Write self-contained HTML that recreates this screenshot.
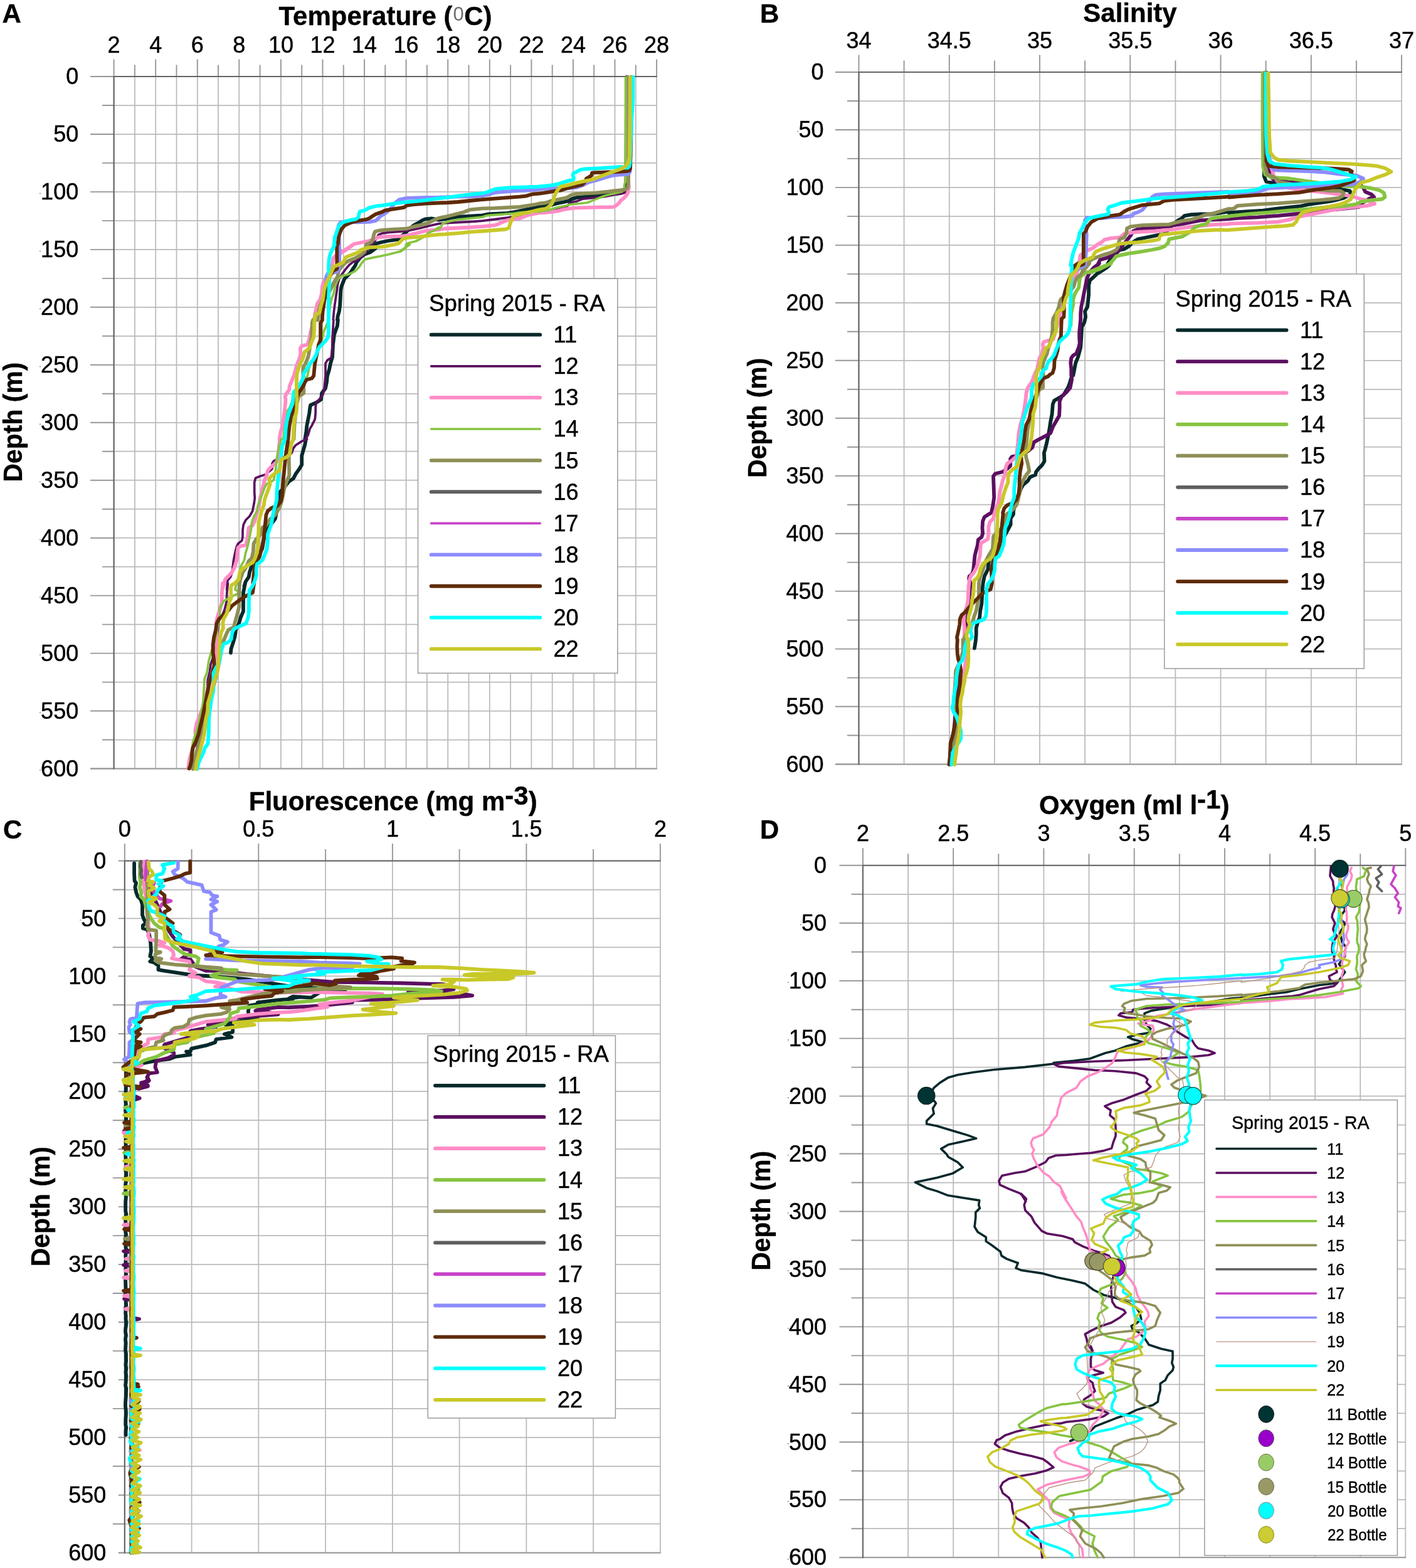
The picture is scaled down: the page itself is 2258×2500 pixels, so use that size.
<!DOCTYPE html>
<html lang="en"><head><meta charset="utf-8"><title>CTD profiles - Spring 2015 RA</title>
<style>html,body{margin:0;padding:0;background:#fff}body{width:2258px;height:2500px;overflow:hidden}svg{display:block}text{font-family:'Liberation Sans', Arial, Helvetica, sans-serif}</style>
</head><body>
<svg xmlns="http://www.w3.org/2000/svg" width="2258" height="2500" viewBox="0 0 2258 2500">
<g id="figure">
<rect width="2258" height="2500" fill="#fff"/>
<g id="axesA" fill="none">
<path d="M181.6 122V1225.5M214.9 122V1225.5M248.2 122V1225.5M281.5 122V1225.5M314.8 122V1225.5M348 122V1225.5M381.3 122V1225.5M414.6 122V1225.5M447.9 122V1225.5M481.2 122V1225.5M514.5 122V1225.5M547.8 122V1225.5M581.1 122V1225.5M614.3 122V1225.5M647.6 122V1225.5M680.9 122V1225.5M714.2 122V1225.5M747.5 122V1225.5M780.8 122V1225.5M814.1 122V1225.5M847.4 122V1225.5M880.7 122V1225.5M913.9 122V1225.5M947.2 122V1225.5M980.5 122V1225.5M1013.8 122V1225.5M1047.1 122V1225.5M181.6 122H1047.1M181.6 168H1047.1M181.6 214H1047.1M181.6 259.9H1047.1M181.6 305.9H1047.1M181.6 351.9H1047.1M181.6 397.9H1047.1M181.6 443.9H1047.1M181.6 489.8H1047.1M181.6 535.8H1047.1M181.6 581.8H1047.1M181.6 627.8H1047.1M181.6 673.8H1047.1M181.6 719.7H1047.1M181.6 765.7H1047.1M181.6 811.7H1047.1M181.6 857.7H1047.1M181.6 903.6H1047.1M181.6 949.6H1047.1M181.6 995.6H1047.1M181.6 1041.6H1047.1M181.6 1087.6H1047.1M181.6 1133.5H1047.1M181.6 1179.5H1047.1M181.6 1225.5H1047.1" stroke="#bababa" stroke-width="1.75"/>
<path d="M181.6 94.5V122M214.9 103.5V122M248.2 94.5V122M281.5 103.5V122M314.8 94.5V122M348 103.5V122M381.3 94.5V122M414.6 103.5V122M447.9 94.5V122M481.2 103.5V122M514.5 94.5V122M547.8 103.5V122M581.1 94.5V122M614.3 103.5V122M647.6 94.5V122M680.9 103.5V122M714.2 94.5V122M747.5 103.5V122M780.8 94.5V122M814.1 103.5V122M847.4 94.5V122M880.7 103.5V122M913.9 94.5V122M947.2 103.5V122M980.5 94.5V122M1013.8 103.5V122M1047.1 94.5V122M144.1 122H181.6M163.1 168H181.6M144.1 214H181.6M163.1 259.9H181.6M144.1 305.9H181.6M163.1 351.9H181.6M144.1 397.9H181.6M163.1 443.9H181.6M144.1 489.8H181.6M163.1 535.8H181.6M144.1 581.8H181.6M163.1 627.8H181.6M144.1 673.8H181.6M163.1 719.7H181.6M144.1 765.7H181.6M163.1 811.7H181.6M144.1 857.7H181.6M163.1 903.6H181.6M144.1 949.6H181.6M163.1 995.6H181.6M144.1 1041.6H181.6M163.1 1087.6H181.6M144.1 1133.5H181.6M163.1 1179.5H181.6M144.1 1225.5H181.6" stroke="#969696" stroke-width="1.9"/>
<path d="M144.1 1225.5H1047.9" stroke="#9a9a9a" stroke-width="2.1"/>
<path d="M181.6 121.2V1226.5M181.6 122H1047.9" stroke="#646464" stroke-width="2.1"/>
</g>
<g id="axesB" fill="none">
<path d="M1369.5 115V1218.5M1441.6 115V1218.5M1513.8 115V1218.5M1585.9 115V1218.5M1658 115V1218.5M1730.1 115V1218.5M1802.2 115V1218.5M1874.4 115V1218.5M1946.5 115V1218.5M2018.6 115V1218.5M2090.8 115V1218.5M2162.9 115V1218.5M2235 115V1218.5M1369.5 115H2235M1369.5 161H2235M1369.5 207H2235M1369.5 252.9H2235M1369.5 298.9H2235M1369.5 344.9H2235M1369.5 390.9H2235M1369.5 436.9H2235M1369.5 482.8H2235M1369.5 528.8H2235M1369.5 574.8H2235M1369.5 620.8H2235M1369.5 666.8H2235M1369.5 712.7H2235M1369.5 758.7H2235M1369.5 804.7H2235M1369.5 850.7H2235M1369.5 896.6H2235M1369.5 942.6H2235M1369.5 988.6H2235M1369.5 1034.6H2235M1369.5 1080.6H2235M1369.5 1126.5H2235M1369.5 1172.5H2235M1369.5 1218.5H2235" stroke="#bababa" stroke-width="1.75"/>
<path d="M1369.5 87.5V115M1441.6 96.5V115M1513.8 87.5V115M1585.9 96.5V115M1658 87.5V115M1730.1 96.5V115M1802.2 87.5V115M1874.4 96.5V115M1946.5 87.5V115M2018.6 96.5V115M2090.8 87.5V115M2162.9 96.5V115M2235 87.5V115M1332 115H1369.5M1351 161H1369.5M1332 207H1369.5M1351 252.9H1369.5M1332 298.9H1369.5M1351 344.9H1369.5M1332 390.9H1369.5M1351 436.9H1369.5M1332 482.8H1369.5M1351 528.8H1369.5M1332 574.8H1369.5M1351 620.8H1369.5M1332 666.8H1369.5M1351 712.7H1369.5M1332 758.7H1369.5M1351 804.7H1369.5M1332 850.7H1369.5M1351 896.6H1369.5M1332 942.6H1369.5M1351 988.6H1369.5M1332 1034.6H1369.5M1351 1080.6H1369.5M1332 1126.5H1369.5M1351 1172.5H1369.5M1332 1218.5H1369.5" stroke="#969696" stroke-width="1.9"/>
<path d="M1332 1218.5H2235.8" stroke="#9a9a9a" stroke-width="2.1"/>
<path d="M1369.5 114.2V1219.5M1369.5 115H2235.8" stroke="#646464" stroke-width="2.1"/>
</g>
<g id="axesC" fill="none">
<path d="M198.8 1372.5V2475.7M305.6 1372.5V2475.7M412.3 1372.5V2475.7M519.1 1372.5V2475.7M625.9 1372.5V2475.7M732.6 1372.5V2475.7M839.4 1372.5V2475.7M946.1 1372.5V2475.7M1052.9 1372.5V2475.7M198.8 1372.5H1052.9M198.8 1418.5H1052.9M198.8 1464.4H1052.9M198.8 1510.4H1052.9M198.8 1556.4H1052.9M198.8 1602.3H1052.9M198.8 1648.3H1052.9M198.8 1694.3H1052.9M198.8 1740.2H1052.9M198.8 1786.2H1052.9M198.8 1832.2H1052.9M198.8 1878.1H1052.9M198.8 1924.1H1052.9M198.8 1970.1H1052.9M198.8 2016H1052.9M198.8 2062H1052.9M198.8 2108H1052.9M198.8 2153.9H1052.9M198.8 2199.9H1052.9M198.8 2245.9H1052.9M198.8 2291.8H1052.9M198.8 2337.8H1052.9M198.8 2383.8H1052.9M198.8 2429.7H1052.9M198.8 2475.7H1052.9" stroke="#bababa" stroke-width="1.75"/>
<path d="M198.8 1345V1372.5M305.6 1354V1372.5M412.3 1345V1372.5M519.1 1354V1372.5M625.9 1345V1372.5M732.6 1354V1372.5M839.4 1345V1372.5M946.1 1354V1372.5M1052.9 1345V1372.5M188.8 1372.5H198.8M179.8 1418.5H198.8M188.8 1464.4H198.8M179.8 1510.4H198.8M188.8 1556.4H198.8M179.8 1602.3H198.8M188.8 1648.3H198.8M179.8 1694.3H198.8M188.8 1740.2H198.8M179.8 1786.2H198.8M188.8 1832.2H198.8M179.8 1878.1H198.8M188.8 1924.1H198.8M179.8 1970.1H198.8M188.8 2016H198.8M179.8 2062H198.8M188.8 2108H198.8M179.8 2153.9H198.8M188.8 2199.9H198.8M179.8 2245.9H198.8M188.8 2291.8H198.8M179.8 2337.8H198.8M188.8 2383.8H198.8M179.8 2429.7H198.8M188.8 2475.7H198.8" stroke="#969696" stroke-width="1.9"/>
<path d="M188.8 2475.7H1053.7" stroke="#9a9a9a" stroke-width="2.1"/>
<path d="M198.8 1371.7V2476.7M198.8 1372.5H1053.7" stroke="#646464" stroke-width="2.1"/>
</g>
<g id="axesD" fill="none">
<path d="M1376 1379.8V2483.2M1448.1 1379.8V2483.2M1520.2 1379.8V2483.2M1592.3 1379.8V2483.2M1664.4 1379.8V2483.2M1736.5 1379.8V2483.2M1808.7 1379.8V2483.2M1880.8 1379.8V2483.2M1952.9 1379.8V2483.2M2025 1379.8V2483.2M2097.1 1379.8V2483.2M2169.2 1379.8V2483.2M2241.3 1379.8V2483.2M1376 1379.8H2241.3M1376 1425.8H2241.3M1376 1471.8H2241.3M1376 1517.7H2241.3M1376 1563.7H2241.3M1376 1609.7H2241.3M1376 1655.6H2241.3M1376 1701.6H2241.3M1376 1747.6H2241.3M1376 1793.6H2241.3M1376 1839.5H2241.3M1376 1885.5H2241.3M1376 1931.5H2241.3M1376 1977.5H2241.3M1376 2023.4H2241.3M1376 2069.4H2241.3M1376 2115.4H2241.3M1376 2161.4H2241.3M1376 2207.3H2241.3M1376 2253.3H2241.3M1376 2299.3H2241.3M1376 2345.3H2241.3M1376 2391.2H2241.3M1376 2437.2H2241.3M1376 2483.2H2241.3" stroke="#bababa" stroke-width="1.75"/>
<path d="M1376 1352.3V1379.8M1448.1 1361.3V1379.8M1520.2 1352.3V1379.8M1592.3 1361.3V1379.8M1664.4 1352.3V1379.8M1736.5 1361.3V1379.8M1808.7 1352.3V1379.8M1880.8 1361.3V1379.8M1952.9 1352.3V1379.8M2025 1361.3V1379.8M2097.1 1352.3V1379.8M2169.2 1361.3V1379.8M2241.3 1352.3V1379.8M1338.5 1379.8H1376M1357.5 1425.8H1376M1338.5 1471.8H1376M1357.5 1517.7H1376M1338.5 1563.7H1376M1357.5 1609.7H1376M1338.5 1655.6H1376M1357.5 1701.6H1376M1338.5 1747.6H1376M1357.5 1793.6H1376M1338.5 1839.5H1376M1357.5 1885.5H1376M1338.5 1931.5H1376M1357.5 1977.5H1376M1338.5 2023.4H1376M1357.5 2069.4H1376M1338.5 2115.4H1376M1357.5 2161.4H1376M1338.5 2207.3H1376M1357.5 2253.3H1376M1338.5 2299.3H1376M1357.5 2345.3H1376M1338.5 2391.2H1376M1357.5 2437.2H1376M1338.5 2483.2H1376" stroke="#969696" stroke-width="1.9"/>
<path d="M1338.5 2483.2H2242.1" stroke="#9a9a9a" stroke-width="2.1"/>
<path d="M1376 1379V2484.2M1376 1379.8H2242.1" stroke="#646464" stroke-width="2.1"/>
</g>
<g id="curvesA" fill="none" stroke-linejoin="round" stroke-linecap="round">
<path d="M999.2 123L998.8 200L998.4 300L998.2 303.3L995.4 306.2L988.5 308.2L978.6 309.2L968.7 310.2L958.8 311.2L949 312.2L939.1 313.1L929.2 314.1L919.3 315.1L912.4 317.1L907.4 320.1L899.5 322L889.7 324L879.8 326.5L869.9 328.5L860 329.9L848.3 332.4L838.4 334.4L828.5 336.3L818.6 338.3L808.7 339.8L789 340.8L779.1 341.3L769.2 343.3L749.4 344.7L729.7 345.7L719.8 347.2L709.9 349.2L700 350.7L688 348.4L678.1 349.4L673.2 351.4L668.3 354.9L663.3 357.3L658.4 360.3L648.5 369.2L646.5 371.2L638.6 378.1L633.7 382L618.8 384L609 386L601.1 388L597.1 390.9L591.2 397.9L598.9 396L590.5 402.1L580.8 405.7L574.8 410.5L568.7 417.8L566.3 423.8L562.7 428.7L559.1 434.7L553 440.7L549.4 444.4L547 450.4L544.6 456.4L543.4 462.5L542.8 474.6L542.2 486.7L540.9 496.3L538.5 504.8L537.9 510L538.9 509.9L537.9 519.8L534.9 527.8L532.9 533.7L531 549.6L530 569.4L527 579.4L525 589.3L522 599.2L521 609.1L519 619L513.1 627L512.1 636.9L504.2 641.9L495.2 645.8L494.2 650.8L493.3 658.7L491.3 668.7L489.3 678.6L488.3 688.5L486.3 700L487.9 700L486.1 709.7L483.6 718.1L481.2 726.6L481.2 741.1L477.6 747.1L471.6 755.6L467.9 762.8L460.7 767.7L455.9 773.7L451 779.7L446.2 784.6L443.8 802.7L440.1 820.8L438.9 826.9L431.7 836.5L425.6 845L422 852.2L420.2 863.1L418.4 874L412.4 887.3L405.1 899.3L400.3 905.4L397.9 912.6L396.7 919.9L391.8 927.1L389.4 934.4L391 930L388 944.9L388 959.8L388 974.6L383.5 985.1L380.5 995.5L376.1 1004.4L374.6 1014.8L371.6 1025.2L368.6 1034.2L367.9 1040.9" stroke="#05292b" stroke-width="5.8"/>
<path d="M1000.4 123L1000.4 300L998.9 304.2L996.4 307.2L988.5 309.2L978.6 310.7L968.7 312.6L958.8 314.1L949 315.1L939.1 316.1L929.2 317.1L924.2 319.1L919.3 321.1L911.4 322.5L907.4 325L904.5 329L899.5 330.4L889.7 332.9L879.8 334.9L860 336.9L868 339.3L848.3 340.8L828.5 343.3L818.6 345.7L808.7 347.2L789 349.7L769.2 352.2L749.4 353.6L729.7 354.6L709.9 355.6L700 356.6L688 359.3L678.1 361.8L668.3 364.2L658.4 366.2L648.5 368.2L638.6 369.2L618.8 370.7L609 372.2L604 374.1L599.1 382L597.1 386L593.1 389L589.2 390.9L586.9 398.5L580.8 405.7L574.8 410.5L568.7 415.4L562.7 417.8L556.7 422.6L550.6 429.9L544.6 438.3L540.9 444.4L538.5 452.8L537.3 462.5L535.5 474.6L533.7 486.7L532.5 496.3L531.3 510L531.9 509.9L531 524.8L530 539.7L530 554.6L529 564.5L528 570.4L522 574.4L519 579.4L519 589.3L519 599.2L518.1 609.1L517.1 619L515.1 629L509.1 636.9L504.2 641.9L503.2 648.8L503.2 658.7L502.2 668.7L497.2 678.6L494.2 683.5L491.3 693.5L487.3 700L489.7 700L481.2 703.6L471.6 709.7L467.9 714.5L465.5 721.7L461.9 725.4L445 731.4L436.5 735L434.1 738.7L434.1 747.1L430.5 750.7L423.2 756.8L414.8 759.2L407.5 762.2L405.7 768.9L405.7 784.6L406.3 794.2L405.1 802.7L402.7 814.8L397.9 823.2L391.8 829.3L388.2 836.5L387 845L387 855.9L385.8 861.9L379.7 866.7L377.3 871.6L374.9 881.2L372.5 893.3L371.3 903L370.1 912.6L367.7 919.9L362.8 925.9L361.6 940.1L363.4 930L361.9 944.9L361.2 959.8L358.2 971.7L355.2 979.1L349.3 989.5L347.8 1004.4L344.8 1026.7L340.4 1046.1L335.9 1059.5L334.4 1071.4L331.4 1083.3L330.7 1093.7L329.2 1108.6L326.2 1130.9L322.5 1153.2L318 1174L314.3 1186L313.6 1197.9L310.6 1212.7L307.6 1225.4" stroke="#5b0f60" stroke-width="3.7"/>
<path d="M1001.6 123L1001.4 270L1001.3 279.5L1002.8 299.3L1001.3 307.2L998.4 312.2L993.4 317.1L990.5 319.1L988.5 322L983.6 327L978.6 329.9L968.7 330.4L958.8 330.4L939.1 330.9L919.3 331.4L909.4 332.4L899.5 333.9L889.7 336.4L879.8 337.9L869.9 338.8L860 339.3L848.3 341.3L838.4 344.2L828.5 348.2L818.6 349.7L808.7 351.2L798.8 355.1L793.9 357.6L789 359.1L769.2 361.1L749.4 362.5L729.7 363.5L709.9 364.5L700 366L688 367.2L678.1 368.2L668.3 370.7L658.4 373.1L648.5 375.6L638.6 376.6L618.8 377.1L604 378.1L599.1 380.1L589.2 384L579.3 386L569.4 388L564.5 389L559.5 392.9L554.6 396.4L549.7 400L562.7 390L554.2 396L544.6 402.1L542.2 405.7L534.9 408.1L531.3 411.7L530.1 420.2L528.9 426.2L522.8 438.3L515.6 450.4L513.8 457.7L513.2 467.3L510.7 477L505.9 484.2L504.1 492.7L502.3 499.9L501.1 510L505.2 500L499.2 514.9L495.2 529.8L493.3 539.7L491.3 546.6L489.3 549.6L481.3 551.6L478.9 555.6L479.4 564.5L476.4 574.4L473.4 581.3L471.4 589.3L468.5 599.2L464.5 609.1L461.5 616.1L461.5 621L456.5 628L454.6 632.9L455.6 636.9L454.6 648.8L452.6 663.7L450.6 678.6L447.6 688.5L445.6 700L446.2 700L445 712.1L443.8 724.2L441.4 736.2L436.5 741.1L430.5 745.9L426.9 750.7L425.6 756.8L422 765.2L419.6 774.9L417.2 784.6L414.8 794.2L413.6 803.9L412.4 808.7L408.7 820.8L406.3 830.5L402.7 837.7L396.7 841.4L395.4 851L394.2 860.7L391.8 869.1L384.6 870.4L379.7 872.8L378.5 881.2L377.3 893.3L373.7 905.4L368.9 913.8L364 918.7L359.2 923.5L356.8 932L354.4 940.1L355.2 930L353.8 944.9L353.8 959.8L350.8 971.7L347.1 982.1L344.8 992.5L345.6 1011.8L345.6 1026.7L344.8 1043.1L340.4 1063.9L334.4 1086.2L328.5 1108.6L322.5 1130.9L316.5 1145.8L313.6 1153.2L311.3 1165.1L312.1 1174L307.6 1191.9L303.2 1206.8L301.7 1212.7L300.2 1225.4" stroke="#ff8cc6" stroke-width="5.8"/>
<path d="M997.6 123L997.4 240L997.4 289.4L995.9 293.4L995.4 299.3L992.5 305.2L983.6 307.7L973.7 309.7L963.8 312.2L953.9 316.1L944 320.1L937.1 323L929.2 324L919.3 325L909.4 326L904.5 327.5L894.6 329.5L884.7 331.9L874.8 334.9L864.9 336.4L860 337.4L848.3 337.3L828.5 338.8L818.6 340.3L798.8 341.8L779.1 343.3L774.1 344.2L769.2 346.2L749.4 348.2L729.7 350.2L719.8 352.2L709.9 354.6L705.9 356.6L703 362L700 365.5L700 362.3L693 367.2L683.1 371.2L678.1 376.1L673.2 379.1L668.3 382L663.3 384.5L653.4 387L648.5 388.5L647.5 392.9L645.5 396.9L640.6 398.8L638.6 400L653.3 390L647.3 390L646.7 396L638.8 400.9L629.1 403.3L617.1 406.3L605 408.7L592.9 411.1L582 413.6L577.2 419L572.4 426.2L566.3 432.3L556.7 437.1L544.6 440.1L539.7 444.4L536.1 451.6L533.7 458.9L531.9 468.5L528.9 475.8L526.4 486.7L525.2 498.7L524.6 510L525 505L522 514.9L519 522.8L516.1 528.8L514.1 539.7L509.1 551.6L505.2 561.5L501.2 571.4L495.2 579.4L492.3 589.3L490.3 599.2L486.3 605.2L481.3 611.1L475.4 619L469.4 629L465.5 640.9L461.5 650.8L458.5 654.8L456.5 668.7L453.6 683.5L451.6 700L448.6 700L445 712.1L441.4 730.2L440.1 742.3L438.9 754.4L436.5 765.2L432.9 767.7L425.6 771.3L422 777.3L418.4 787L414.8 796.7L411.2 806.3L409.9 814.8L405.1 823.2L401.5 832.9L400.3 845L397.9 857.1L395.4 869.1L391.8 881.2L389.4 893.3L384.6 901.8L383.4 907.8L380.9 917.5L377.3 929.6L374.9 940.1L383.5 944.9L379 946.4L373.1 949.3L364.2 953.8L356.7 958.3L353.8 964.2L350 970.2L350.8 979.1L347.8 997L343.3 1019.3L335.9 1043.1L332.9 1053.5L331.4 1063.9L329.9 1072.9L326.2 1081.8L325.5 1093.7L324.7 1105.6L324 1117.5L322.5 1127.9L319.5 1141.3L315.1 1160.7L310.6 1174L307.6 1183L304.6 1205.3L302.4 1225.4" stroke="#86c440" stroke-width="3.7"/>
<path d="M1002.3 123L1002.3 270L1002.3 274.6L1001.8 295.4L1000.4 300.3L996.4 302.3L988.5 303.3L978.6 304.4L968.7 305.7L958.8 306.7L949 307.7L939.1 308.2L929.2 308.7L919.3 309.2L911.4 310.7L907.4 313.1L902.5 315.6L894.6 317.1L887.7 318.6L879.8 320.1L869.9 323.5L860 324.5L853.2 326L838.4 328.4L828.5 329.9L808.7 330.9L789 331.9L769.2 332.4L749.4 334.4L744.5 336.3L739.5 338.3L729.7 340.8L719.8 343.3L709.9 345.7L700 347.7L693 350.4L683.1 355.4L673.2 358.3L663.3 360.3L653.4 363.3L648.5 364.7L628.7 365.7L613.9 366.7L604 367.7L598.1 369.2L596.1 374.1L595.1 379.1L593.1 385L588.2 388L584.2 389.9L583.3 393.9L585.6 390L583.2 396L580.8 402.1L574.8 406.9L566.3 411.7L556.7 415.4L550.6 419L544.6 425L539.7 432.3L538.5 440.7L532.5 450.4L528.9 457.7L525.2 464.9L520.4 472.2L514.4 479.4L510.7 486.7L508.3 496.3L507.1 510L499.2 509.9L497.7 514.9L497.7 524.8L496.7 539.7L494.2 551.6L493.3 559.5L491.3 569.4L487.3 579.4L484.3 584.3L483.3 589.3L483.8 604.2L484.3 619L484.3 627L479.4 630L476.4 631.9L473.4 643.8L471.4 658.7L469.4 678.6L468.5 700L460.7 712.1L460.7 730.2L461.3 758L457.1 767.7L453.4 778.5L449.8 796.7L446.2 808.7L438.9 820.8L430.5 828.1L424.4 836.5L418.4 841.4L416 852.2L408.7 859.5L404.5 866.7L403.9 878.8L401.5 889.7L396.7 894.5L391.8 905.4L387 912.6L383.4 923.5L381.6 932L382 930L381.3 944.9L381.3 967.2L377.6 982.1L374.6 992.5L373.1 999.9L364.2 1004.4L361.2 1010.4L358.2 1017.8L355.2 1025.2L352.3 1034.2L350 1049L347.8 1063.9L344.8 1078.8L340.4 1093.7L335.9 1108.6L332.2 1123.5L329.2 1138.3L326.2 1153.2L322.5 1168.1L318 1183L313.6 1197.9L310.6 1208.3L307.6 1226.1" stroke="#8e8f56" stroke-width="5.8"/>
<path d="M1004.5 123L1004.5 250L1004.8 273.6L1002.3 277.1L998.4 278.1L988.5 278.7L978.6 279.5L968.7 282L958.8 285L953.9 286.5L949 287.9L939.1 290.4L929.2 295.4L919.3 298.8L909.4 299.8L889.7 299.8L869.9 300.8L860 301.8L858.1 302.2L838.4 303.7L818.6 304.7L798.8 306.2L789 307.2L779.1 310.1L769.2 312.1L759.3 313.1L729.7 313.6L714.8 314.1L700 314.6L678.1 314.8L648.5 315.8L636.6 318.3L628.7 324.7L623.8 331.6L618.8 336.6L613.9 340.5L607 344.5L602 349.4L599.1 351.9L589.2 353.9L569.4 354.4L549.7 353.4L542.7 354.9L539.8 359.3L539.3 369.2L540.8 379.1L541.3 398.8L540.9 398.5L541.2 414.2L540.3 428.7L537.3 433.5L532.5 434.7L522.8 435.9L520.4 440.7L519.8 446.8L520.4 452.8" stroke="#8c8cff" stroke-width="5.8"/>
<path d="M1006.6 123L1006.6 200L1005.6 250L1005.3 254.8L1005.1 268.7L1003.3 272.1L998.4 273.1L988.5 273.6L978.6 274.1L968.7 274.4L958.8 274.8L949 275.1L944 275.6L943.5 279.5L939.1 282.5L935.1 284.5L933.1 289.4L929.2 293.9L924.2 295.4L914.4 297.8L904.5 300.3L899.5 301.8L894.6 303.3L884.7 304.7L874.8 306.4L860 308.7L848.3 309.7L838.4 312.6L828.5 313.6L808.7 315.1L789 316.6L769.2 318.1L749.4 320L729.7 322L714.8 323L700 323.5L678.1 324.7L658.4 326.2L648.5 327.7L644.5 330.6L638.6 331.6L628.7 333.1L618.8 334.6L613.9 335.6L609 338.1L599.1 341.5L594.1 344.5L589.2 347.9L584.2 349.9L574.4 351.4L564.5 353.4L559.5 354.9L549.7 359.3L544.7 365.2L541.7 372.2L539.8 379.1L538.8 389L537.3 390L537.3 402.1L537.3 414.2L537.3 428.7L531.3 431.7L525.8 440.7L522.8 452.8L520.4 464.9L518 474.6L516.2 486.7L514.4 498.7L513.8 510L514.1 509.9L511.1 514.9L511.1 529.8L511.1 541.7L508.1 549.6L507.1 555.6L504.2 569.4L502.2 579.4L501.2 589.3L500.2 599.2L497.2 603.2L489.3 605.2L486.3 609.1L484.3 614.1L479.4 622L476.4 626L471.4 638.9L467.5 653.8L464.5 663.7L461.5 678.6L460.5 688.5L459.5 700L455.9 724.2L454 742.3L452.2 760.4L451 772.5L449.8 790.6L447.4 800.3L442.6 806.3L432.9 809.9L426.9 814.8L424.4 820.8L423.2 832.9L422 845L420.8 857.1L418.4 869.1L416 878.8L413.6 888.5L408.7 894.5L406.3 899.3L404.5 917.5L403.3 929.6L405.1 930L402.9 944.9L393.9 949.3L382 956.8L370.1 965.7L364.2 973.2L356.7 980.6L349.3 986.5L345.6 994L344.1 1004.4L341.1 1016.3L339.6 1028.2L339.6 1040.1L341.1 1052L341.8 1061L338.9 1071.4L334.4 1086.2L331.4 1101.1L328.5 1116L325.5 1130.9L322.5 1145.8L319.5 1157.7L316.5 1171.1L312.1 1183L307.6 1191.9L306.1 1202.3L305.4 1212.7L303.2 1221.7L301.7 1225.4" stroke="#5e2a07" stroke-width="5.8"/>
<path d="M1009.4 123L1009.2 160L1007.5 185L1005.5 230L1004.5 259.8L1003.5 265.2L1000.9 267.7L996.4 267.2L991.5 266L978.6 266.9L958.8 268.2L944 268.9L931.2 269.5L924.2 271.1L919.3 274.1L914.4 276.1L913.4 279.5L914.9 283.5L914.4 286.5L909.4 287.4L899.5 290.4L889.7 293.4L879.8 295.4L869.9 296.5L860 297.3L858.1 297.6L838.4 298.3L818.6 299L798.8 300.3L789 301.7L782 304.2L777.1 306.7L769.2 308.2L749.4 310.1L729.7 312.6L714.8 314.6L700 316.1L678.1 319.3L658.4 321.3L638.6 323.2L628.7 324.7L618.8 326.2L609 327.7L599.1 328.7L589.2 331.1L584.2 334.1L579.3 336.1L573.9 337.1L572.4 341.5L571.4 346.5L567.4 349.4L559.5 350.9L549.7 353.4L543.7 356.3L539.8 361.3L537.8 367.2L535.8 373.1L533.8 378.1L533.3 384L532.8 389L533.7 390L530.1 397.2L526.4 405.7L524.6 414.2L524 426.2L524.6 438.3L525.2 450.4L524.6 462.5L524 474.6L524 486.7L524 498.7L524 510L523.5 509.9L524 519.8L524 529.8L523 537.7L519 543.7L514.1 548.6L509.1 553.6L506.2 559.5L503.2 567.5L499.2 574.4L494.2 579.4L491.3 585.3L487.3 591.3L484.3 595.2L483.3 603.2L480.4 609.1L477.4 614.1L472.4 621L468.5 625L467.5 633.9L466.5 643.8L463.5 650.8L460.5 658.7L457.5 670.6L455.6 683.5L454.6 700L449.8 712.1L448.6 724.2L447.4 736.2L445 748.3L443.8 760.4L442.6 772.5L441.4 784.6L441.4 796.7L438.9 806.3L436.5 814.8L434.1 826.9L432.9 835.3L429.3 845L426.9 852.2L426.9 863.1L425.6 875.2L422 884.8L418.4 893.3L413.6 896.9L409.9 899.3L408.7 907.8L408.7 917.5L406.3 925.9L402.7 934.4L401.4 936L397.6 941.9L396.9 959.8L396.9 974.6L395.4 985.1L392.4 994L382 998.5L373.1 1002.9L370.1 1008.9L368.6 1019.3L364.2 1023.8L356.7 1026.7L353.8 1034.2L351.5 1046.1L349.3 1058L344.8 1063.9L340.4 1072.9L340.4 1086.2L340.4 1101.1L337.4 1113L335.9 1123.5L333.7 1138.3L332.9 1153.2L332.9 1168.1L332.2 1177L331.4 1186L327 1191.9L324 1200.8L319.5 1209.8L316.5 1217.2L314.3 1226.1" stroke="#00ffff" stroke-width="5.8"/>
<path d="M1005 123L1004.6 180L1003.8 240L1003.8 249.9L1002.3 258.8L998.4 264.2L991.5 268.7L983.6 271.6L973.7 275.1L963.8 279L953.9 282.5L944 286.5L934.1 288.4L924.2 290.4L914.4 292.9L904.5 295.4L894.6 297.3L890.6 300.8L886.7 307.2L884.2 313.1L882.7 319.1L879.8 325L874.8 329.9L869.9 332.9L860 334.4L848.3 337.3L838.4 339.3L828.5 341.8L820.6 343.3L817.6 347.2L814.7 353.1L812.7 359.1L811.7 363L806.8 365.5L789 367L769.2 368.5L749.4 369.9L729.7 371.9L709.9 373.4L700 373.9L688 375.1L668.3 377.6L648.5 379.1L642.6 380.6L638.6 385L635.6 388L628.7 389.9L618.8 391.9L609 393.4L599.1 393.9L589.2 394.4L584.2 395.9L574.4 398.8L574.8 400.9L562.7 405.7L551.8 409.9L549.4 414.2L547 418.4L538.5 422.6L532.5 425L530.1 429.9L527.7 435.9L525.2 442L521.6 448L519.2 455.2L516.8 462.5L515.6 472.2L514.4 479.4L512 486.7L510.7 492.7L509.5 498.7L503.5 501.2L501.7 510L501.2 511.9L501.2 524.8L500.2 537.7L496.2 546.6L494.2 553.6L489.3 558.5L485.3 561.5L484.3 567.5L481.3 575.4L478.4 579.4L475.4 589.3L473.4 597.2L472.9 609.1L472.9 624L473.4 638.9L473.4 648.8L472.4 658.7L469.4 668.7L468.5 678.6L468 688.5L467.5 700L464.3 709.7L463.1 718.1L461.9 724.2L457.1 729L449.8 731.4L447.4 736.2L446.8 745.9L445 750.7L438.9 754.4L432.9 759.2L429.3 762.8L430.5 772.5L428.1 779.7L424.4 789.4L422 796.7L420.8 805.1L417.2 814.8L414.8 823.2L412.4 832.9L412.4 845L411.8 857.1L411.2 869.1L409.9 881.2L406.3 890.9L402.7 896.9L394.2 901.8L387 906.6L382.2 912.6L380.9 923.5L374.9 929.6L368.9 933.2L367.9 938.9L368.6 953.8L365.7 959.8L364.2 968.7L361.2 979.1L356.7 986.5L355.2 994L356 1001.4L352.3 1008.9L350.8 1022.3L349.3 1034.2L349.3 1046.1L347.8 1061L346.3 1072.9L343.3 1081.8L340.4 1090.7L337.4 1102.6L334.4 1111.5L331.4 1122L331.4 1135.4L328.5 1145.8L327 1160.7L325.5 1171.1L322.5 1183L319.5 1194.9L316.5 1205.3L313.6 1215.7L312.1 1226.1" stroke="#c8c828" stroke-width="5.8"/>
</g>
<g id="curvesB" fill="none" stroke-linejoin="round" stroke-linecap="round">
<path d="M2015.5 116.5L2015.5 182.4L2015.8 281.2L2019.1 289.5L2030.6 291.9L2055.3 295.2L2088.3 297.7L2137.7 301.8L2152.5 304.3L2154.2 309.2L2142.6 315.8L2129.5 319.1L2121.2 320.8L2088.3 325.7L2071.8 329L2038.8 332.3L2014.1 335.6L1989.4 337.2L1959.9 339.2L1960 337.1L1942.7 340L1928.4 341.4L1914.2 341.4L1899.9 342.1L1888.5 344.2L1884.2 348.5L1878.5 351.4L1871.3 357.1L1865.6 362.8L1857.1 372.8L1842.8 375.7L1828.5 378.5L1814.2 381.4L1807.1 385.7L1799.9 392.8L1792.8 397.1L1785.7 398.5L1778.5 404.2L1771.4 411.4L1768.5 417.1L1764.2 424.2L1757.1 429.9L1750 435.6L1768.8 423L1762.9 427.9L1756.9 431.9L1749 436.9L1744 441.8L1738.1 446.8L1736.1 454.7L1736.1 469.6L1735.1 479.5L1734.1 489.4L1730.1 496.4L1731.1 505.3L1729.1 514.2L1725.2 521.2L1724.2 539L1723.2 553.9L1719.2 568.8L1715.2 578.7L1713.3 588.7L1711.3 598.6L1709 600L1705.4 612.1L1703 618.1L1695.7 630.2L1681.2 638.7L1678.8 644.7L1677.6 660.4L1675.2 672.5L1673.4 684.6L1671.6 694.2L1669.1 706.3L1666.7 716L1664.9 722L1665.5 735.3L1661.9 741.4L1655.9 747.4L1652.2 752.2L1651 757.1L1642.6 760.7L1638.9 766.7L1631.7 772.8L1628.1 778.8L1623.2 793.3L1618.4 805.4L1616 815.1L1616 819.9L1616 820L1611.6 826.6L1611.6 836.5L1602.8 852.9L1591.8 869.4L1580.8 879.3L1576.4 896.9L1575.3 907.9L1569.8 918.8L1567.6 929.8L1566.5 940.8L1566 951.8L1565.4 962.8L1563.2 973.8L1562.1 984.7L1558.8 993.5L1556.7 1001.2L1556.7 1012.2L1555.6 1023.2L1553.9 1033.6" stroke="#05292b" stroke-width="5.8"/>
<path d="M2017.8 116.5L2017.8 182.4L2024 273L2025.7 281.2L2032.3 287.8L2047.1 289.5L2055.3 290.3L2104.7 291.9L2154.2 292.8L2169 294.4L2173.9 299.3L2177.2 305.9L2187.1 310L2191.2 314.2L2183.8 316.6L2173.9 322.4L2167.3 329.8L2145.9 332.3L2121.2 334.8L2104.7 337.2L2071.8 340.5L2038.8 343.8L2005.9 346.3L1972.9 347.9L1959.9 349.1L1960 349.2L1942.7 350L1928.4 350.7L1914.2 351.4L1899.9 354.2L1885.6 357.1L1871.3 359.2L1857.1 361.4L1842.8 362.8L1828.5 364.2L1814.2 365.7L1807.1 368.5L1802.8 375.7L1797.1 382.8L1791.4 389.9L1785.7 397.1L1780 404.2L1771.4 408.5L1764.2 411.4L1754.3 414.2L1750 422.8L1752.9 420L1749 423L1744 426.9L1737.1 434.9L1734.1 441.8L1732.1 449.8L1730.1 459.7L1728.1 469.6L1726.2 479.5L1724.2 489.4L1723.2 499.4L1723.2 509.3L1722.2 519.2L1721.2 529.1L1721.2 539L1721.7 547L1720.2 553.9L1718.2 558.9L1716.2 563.8L1711.3 566.8L1708.3 570.8L1707.3 578.7L1708.3 588.7L1708.3 598.6L1709 600L1709 606L1706.6 618.1L1700.6 625.4L1693.3 631.4L1689.7 639.9L1689.7 650.7L1689.1 662.8L1683.6 672.5L1678.8 680.9L1675.2 690.6L1669.1 694.2L1657.1 700.3L1648.6 705.1L1646.2 713.6L1638.9 719.6L1620.8 726.9L1613.6 728.1L1611.2 731.7L1611.2 742.6L1606.3 747.4L1599.1 752.2L1587 755.2L1584 759.5L1584.6 775.2L1585.2 793.3L1583.4 805.4L1580.9 817.5L1576.4 820L1569.8 824.4L1567.1 831L1566.5 842L1567.1 850.8L1565.4 856.2L1559.9 860.6L1558.8 869.4L1556.7 877.1L1554.5 885.9L1553.4 896.9L1552.3 907.9L1550.1 915.6L1545.7 918.8L1545.1 923.2L1547.9 929.8L1546.8 940.8L1544.6 962.8L1542.4 984.7L1541.3 995.7L1539.1 1017.7L1538.8 1020L1536.7 1036.5L1532.3 1050.8L1530.1 1063.9L1527.9 1085.9L1525.7 1107.9L1523.5 1129.8L1522.4 1151.8L1520.2 1173.8L1516.9 1195.7L1515.8 1219" stroke="#5b0f60" stroke-width="5.8"/>
<path d="M2013.8 116.5L2013.5 182.4L2013.8 240L2029 271.3L2030.6 279.6L2038.8 291.1L2047.1 296.9L2055.3 299.3L2071.8 302.6L2104.7 305.9L2137.7 310L2154.2 312.5L2170.6 317.5L2178.9 319.1L2192.1 324.9L2178.9 328.2L2154.2 330.6L2129.5 333.9L2104.7 338.9L2088.3 342.2L2071.8 345.5L2055.3 350.4L2038.8 353.7L2005.9 355.4L1972.9 356.2L1959.9 356.7L1960 357.1L1942.7 357.8L1928.4 358.5L1914.2 360L1899.9 361.4L1885.6 363.5L1871.3 365.7L1857.1 367.1L1842.8 368.5L1828.5 369.2L1814.2 369.9L1799.9 371.4L1792.8 372.8L1785.7 378.5L1771.4 379.9L1761.4 382.1L1757.1 385.7L1750 389.9L1742.8 395.6L1735.7 398.5L1728.6 402.8L1722.8 407.1L1721.4 415.6L1717.1 428.5L1721.2 425L1717.2 434.9L1713.3 442.8L1707.3 452.7L1701.3 469.6L1695.4 484.5L1690.4 499.4L1688.5 509.3L1684.5 524.2L1679.5 541L1671.6 543L1664.6 545L1662.7 549L1663.7 553.9L1661.7 563.8L1657.7 570.8L1655.7 578.7L1653.7 588.7L1649.8 596.6L1648.6 600L1645 609.7L1638.9 618.1L1636.5 626.6L1635.3 638.7L1632.9 654.4L1630.5 666.4L1626.9 678.5L1624.4 691.8L1623.2 706.3L1620.8 728.1L1613.6 734.1L1606.3 738.9L1603.9 745L1602.7 755.9L1599.1 765.5L1596.7 775.2L1594.2 784.8L1593 795.7L1590.6 805.4L1587 815.1L1585.2 820L1584.1 826.6L1578.6 832.1L1576.4 839.8L1576.4 850.8L1575.3 859.5L1569.8 862.8L1564.3 866.1L1563.2 874.9L1562.7 885.9L1559.9 896.9L1556.7 905.7L1553.4 912.3L1547.9 918.8L1545.7 925.4L1544.6 935.3L1544 946.3L1543.5 957.3L1541.8 967.2L1539.1 973.8L1536.9 982.5L1536.9 991.3L1538 1001.2L1538 1012.2L1536.9 1019.9L1541 1020L1540.5 1052.9L1537.7 1066.1L1535.6 1074.9L1533.4 1090.3L1534.5 1103.5L1531.2 1118.8L1527.9 1140.8L1525.7 1162.8L1521.3 1179.3L1519.1 1184.7L1516.9 1201.2L1515.8 1219" stroke="#ff8cc6" stroke-width="5.8"/>
<path d="M2013.6 116.5L2013.6 182.4L2014.1 264.7L2017.4 277.9L2027.3 282.9L2038.8 283.7L2055.3 284.5L2071.8 287L2104.7 291.9L2145.9 296.9L2170.6 297.7L2187.1 300.2L2200.3 303.5L2206.9 307.6L2208.5 314.2L2203.6 317.5L2187.1 319.1L2170.6 321.6L2162.4 325.7L2145.9 328.2L2121.2 329.8L2088.3 333.1L2055.3 335.6L2022.4 338.9L1989.4 341.4L1959.9 344.6L1960 345L1942.7 346.4L1931.3 348.5L1927 352.8L1924.2 357.1L1914.2 359.2L1904.2 362.8L1899.9 368.5L1892.7 372.8L1885.6 377.1L1871.3 379.9L1864.2 381.4L1862.8 387.1L1857.1 392.8L1849.9 395.6L1835.6 398.5L1814.2 402.1L1799.9 404.2L1785.7 407.1L1780 408.5L1774.2 415.6L1768.5 421.3L1757.1 427.1L1742.8 432.8L1735.7 434.2L1771.8 420L1763.8 424L1753.9 428.9L1744 431.9L1734.1 433.9L1727.1 436.9L1722.2 442.8L1721.2 449.8L1720.2 458.7L1716.2 464.6L1713.3 470.6L1711.3 476.5L1711.3 484.5L1708.3 499.4L1707.3 519.2" stroke="#86c440" stroke-width="5.8"/>
<path d="M2016.8 116.5L2016.8 182.4L2017.4 264.7L2020.7 277.9L2029 281.2L2037.2 286.2L2038.8 289.5L2055.3 292.8L2080 297.7L2104.7 302.6L2121.2 304.3L2137.7 304.3L2142.6 307.6L2141 312.5L2134.4 315.8L2121.2 317.5L2104.7 319.1L2071.8 321.6L2038.8 324.1L2005.9 325.7L1972.9 328.2L1968 332.3L1959.9 333.6L1960 332.8L1949.9 335.7L1935.6 340L1921.3 342.8L1914.2 345.7L1899.9 350L1885.6 352.1L1871.3 355.7L1864.2 357.8L1842.8 358.5L1821.4 359.2L1802.8 361.4L1797.1 364.2L1796.4 371.4L1792.8 378.5L1785.7 381.4L1784.2 385.7L1782.8 394.2L1780 398.5L1771.4 402.8L1757.1 407.1L1742.8 412.8L1735.7 417.1L1728.6 422.8L1725.7 434.2L1737.1 420L1729.1 425L1727.1 431.9L1723.2 437.9L1717.2 442.8L1714.2 449.8L1712.3 456.7L1704.3 466.6L1691.4 477.5L1689.4 483.5L1688.5 489.4L1684.5 499.4L1679.5 507.3L1678.5 514.2L1678.5 524.2L1677.5 534.1L1674.6 547L1670.6 558.9L1669.6 563.8L1664.6 574.8L1662.7 582.7L1663.7 598.6L1663.1 600L1663.1 618.1L1657.1 621.7L1649.8 642.3L1645 660.4L1641.4 672.5L1638.9 684.6L1637.7 696.7L1636.5 708.7L1635.3 720.8L1636.5 730.5L1638.9 738.9L1641.4 751L1636.5 757.1L1631.7 765.5L1628.1 774L1625.6 787.3L1623.2 798.1L1620.8 805.4L1616 811.4L1608.7 817.5L1605 820L1603.9 831L1597.3 842L1584.1 855.1L1583 874.9L1576.4 885.9L1570.9 896.9L1567.6 907.9L1563.2 918.8L1561 929.8L1561 951.8L1558.8 962.8L1556.7 973.8L1553.4 982.5L1551.2 991.3L1546.8 1001.2L1540.2 1012.2L1536.9 1019.9L1535.6 1020L1535.6 1042L1530.1 1056.2L1524 1069.4L1523.5 1085.9L1521.8 1107.9L1521.3 1129.8L1524.6 1146.3L1524.6 1162.8L1522.4 1179.3L1519.1 1195.7L1516.9 1219" stroke="#8e8f56" stroke-width="5.8"/>
<path d="M2020.4 116.5L2020.7 182.4L2024 248.3L2025.7 264.7L2032.3 271.3L2055.3 272.2L2088.3 273L2113 274.6L2137.7 277.9L2162.4 279.6L2173.9 284.5L2167.3 291.1L2154.2 294.4L2121.2 296L2088.3 296.9L2055.3 298.5L2022.4 300.2L2005.9 305.9L1972.9 307.6L1959.9 308.4L1960 305.7L1899.9 307.8L1857.1 309.3L1842.8 310.7L1837.1 314.3L1831.4 322.8L1825.6 330L1821.4 335L1814.2 338.5L1807.1 340.7L1805.7 344.2L1792.8 345.7L1771.4 346.4L1757.1 347.8L1742.8 347.4L1732.8 347.1L1730 351.4L1730.7 362.8L1732.8 372.8L1732.1 394.2L1730.7 422.8L1725.7 425.6L1714.3 431.3" stroke="#8c8cff" stroke-width="5.8"/>
<path d="M2019.4 115.7L2019.4 182.4L2019.4 256.5L2022.4 264.7L2038.8 266.4L2071.8 267.2L2104.7 268L2129.5 268.9L2150.9 270.5L2155.8 273.3L2153.3 275.9L2159.1 282.9L2159.1 287.8L2150.9 291.1L2137.7 296L2121.2 299.3L2096.5 302.6L2071.8 306.8L2038.8 309.2L2005.9 310.9L1972.9 313.3L1959.9 314.5L1960 313.6L1928.4 315.7L1899.9 317.1L1871.3 318.5L1857.1 320L1848.5 324.3L1835.6 325.7L1821.4 327.1L1814.2 329.3L1799.9 333.5L1792.8 337.1L1785.7 342.1L1771.4 344.2L1757.1 347.1L1750 348.5L1740 354.2L1734.3 361.4L1731.4 368.5L1727.8 372.8L1727.8 394.2L1727.8 408.5L1727.8 421.3L1721.4 423.5L1712.8 425.6L1719.2 420L1713.3 424L1709.3 434.9L1705.3 444.8L1701.3 454.7L1698.4 464.6L1695.9 474.6L1696.4 484.5L1696.9 495.4L1696.4 505.3L1692.9 508.3L1692.4 519.2L1691.9 536.1L1689.4 542L1687.5 549L1686.5 558.9L1683.5 568.8L1681.5 574.8L1681 586.7L1678.5 594.6L1673.6 597.6L1671.6 600L1663.1 603.6L1658.3 612.1L1653.4 626.6L1647.4 642.3L1643.8 654.4L1641.4 667.7L1636.5 677.3L1634.1 689.4L1632.9 702.7L1630.5 714.8L1628.1 726.9L1629.3 738.9L1626.9 751L1625.6 763.1L1625.6 775.2L1624.4 787.3L1620.8 796.9L1614.8 801.8L1606.3 805.4L1601.5 810.2L1599.1 817.5L1599.5 820L1598.4 831L1597.3 842L1595.1 858.4L1594 869.4L1589.6 881.5L1586.3 885.9L1583 896.9L1580.8 907.9L1581.9 929.8L1579.7 939.7L1569.8 944.1L1564.3 948.5L1556.7 956.2L1552.3 960.6L1543.5 970.5L1539.1 976L1533.6 980.4L1530.8 986.9L1530.3 995.7L1528.1 1006.7L1525.9 1016.6L1526.8 1020L1526.2 1031L1526.8 1042L1527.9 1050.8L1530.1 1056.2L1532.3 1069.4L1531.2 1085.9L1530.1 1096.9L1527.9 1107.9L1526.8 1118.8L1526.8 1129.8L1526.8 1136.4L1523.5 1147.4L1522.4 1157.3L1520.2 1168.3L1518 1177.1L1515.8 1184.7L1515.2 1195.7L1514.7 1206.7L1513.6 1217.7L1513.4 1219" stroke="#5e2a07" stroke-width="5.8"/>
<path d="M2018.6 116.5L2018.6 165.9L2019.1 215.3L2020.7 245L2024 256.5L2032.3 261.4L2055.3 263.9L2088.3 266.4L2104.7 267.2L2121.2 269.7L2137.7 274.6L2150.9 278.7L2162.4 282L2154.2 286.2L2137.7 289.5L2104.7 291.9L2071.8 293.6L2038.8 295.2L2014.1 297.7L2005.9 301.8L1989.4 304.3L1964.7 305.9L1960 306.4L1928.4 309.3L1899.9 312.1L1871.3 314.3L1842.8 316.4L1821.4 319.3L1799.9 322.1L1788.5 323.5L1778.5 327.1L1768.5 330L1766.4 334.3L1768.5 338.5L1767.1 341.4L1757.1 343.5L1742.8 346.4L1735.7 348.5L1728.6 357.1L1725.7 364.2L1721.4 371.4L1720 379.9L1715.7 391.4L1711.4 402.8L1708.6 415.6L1707.1 422.8L1708.3 420L1709.3 426L1708.3 434.9L1707.8 449.8L1707.8 464.6L1707.3 479.5L1706.8 494.4L1706.8 509.3L1706.3 519.2L1705.3 525.2L1703.3 531.1L1699.4 536.1L1694.4 540L1689.4 545L1686.5 551.9L1683.5 558.9L1681.5 564.8L1677.5 570.8L1672.6 575.8L1669.6 581.7L1668.6 586.7L1663.7 590.6L1660.7 596.6L1660.7 600L1654.6 607.2L1647.4 613.3L1645 621.7L1645 633.8L1641.4 642.3L1637.7 650.7L1634.1 661.6L1630.5 672.5L1629.3 684.6L1628.1 696.7L1625.6 708.7L1623.2 720.8L1622 732.9L1620.8 745L1619.6 757.1L1618.4 769.1L1617.2 781.2L1617.2 793.3L1613.6 803L1611.2 812.6L1610.5 819.9L1610.5 820L1607.2 831L1602.8 842L1601.7 855.1L1600.6 867.2L1597.3 877.1L1592.9 887L1587.4 890.3L1586.3 901.3L1586.3 907.9L1584.1 916.7L1580.8 924.3L1575.3 930.9L1573.1 938.6L1573.1 951.8L1573.1 973.8L1572 982.5L1568.7 988L1561 990.2L1552.3 993.5L1549 997.9L1547.9 1006.7L1550.1 1015.5L1547.9 1018.8L1542.7 1020L1538.8 1031L1537.7 1042L1534.5 1052.9L1529 1059.5L1526.8 1069.4L1525.1 1080.4L1524.6 1091.4L1522.4 1102.4L1520.7 1113.4L1520.2 1122.1L1518.5 1128.7L1520.7 1135.3L1524.6 1140.8L1526.8 1147.4L1530.1 1157.3L1532.3 1166.1L1532.3 1177.1L1530.1 1181.4L1524.6 1190.2L1519.1 1200.1L1518 1212.2L1517.4 1219" stroke="#00ffff" stroke-width="5.8"/>
<path d="M2022.4 116.5L2023.2 165.9L2024 215.3L2025.7 243.3L2032.3 251.6L2038.8 254.9L2055.3 256.5L2088.3 258.2L2121.2 259.8L2154.2 261.4L2178.9 263.1L2195.4 264.7L2208.5 268L2218.4 273.8L2210.2 277.9L2195.4 282.9L2183.8 287.8L2170.6 291.1L2165.7 296L2160.8 302.6L2157.5 309.2L2154.2 317.5L2145.9 322.4L2137.7 325.7L2121.2 329L2104.7 332.3L2088.3 335.6L2076.7 338.9L2070.1 347.1L2066.9 353.7L2061.9 358.6L2047.1 360.3L2022.4 361.9L1989.4 364.4L1956.5 366.9L1942.7 366.4L1914.2 367.8L1885.6 370.7L1864.2 372.8L1851.3 374.2L1848.5 378.5L1848.5 381.4L1842.8 382.8L1828.5 384.9L1814.2 386.4L1799.9 387.1L1785.7 388.5L1771.4 392.8L1757.1 397.1L1747.1 401.4L1744.3 405.6L1742.8 409.9L1735.7 412.8L1728.6 415.6L1721.4 419.9L1718.6 427.1L1714.3 432.8L1707.1 440.1L1705.3 449.8L1703.3 459.7L1702.3 469.6L1699.4 476.5L1697.4 483.5L1695.4 492.4L1689.4 495.4L1685.5 499.4L1685 509.3L1684.5 519.2L1683.5 529.1L1679.5 536.1L1676.5 544L1672.6 551.9L1667.6 554.9L1665.6 561.9L1662.7 567.8L1659.7 574.8L1658.7 580.7L1657.7 586.7L1653.7 591.6L1652.7 598.6L1652.2 600L1652.8 612.1L1652.8 624.2L1652.2 636.2L1651 648.3L1647.4 660.4L1647.4 672.5L1646.2 684.6L1645 696.7L1642.6 708.7L1640.1 717.2L1632.9 722L1626.9 728.1L1624.4 736.5L1622 743.8L1614.8 748.6L1608.7 754.6L1607.5 760.7L1607.5 769.1L1603.9 777.6L1600.3 788.5L1597.9 799.3L1595.4 805.4L1591.8 811.4L1590.6 819.9L1590.7 820L1590.7 831L1590.1 842L1589.6 852.9L1588.5 863.9L1586.3 874.9L1583 885.9L1578.6 891.4L1569.8 896.9L1565.4 902.4L1563.2 907.9L1561 916.7L1557.7 922.1L1553.4 925.4L1552.8 935.3L1552.3 946.3L1550.1 957.3L1549 968.3L1546.8 976L1544.6 982.5L1544 990.2L1546.8 995.7L1544.6 1001.2L1541.8 1008.9L1541.3 1015.5L1543.5 1019.9L1544.3 1020L1544.3 1031L1544.3 1042L1544.3 1052.9L1543.2 1063.9L1541 1072.7L1538.8 1079.3L1537.7 1088.1L1535.6 1096.9L1534.5 1105.7L1532.3 1113.4L1531.2 1124.3L1532.3 1135.3L1531.2 1146.3L1530.1 1157.3L1529.5 1168.3L1527.9 1179.3L1525.7 1190.2L1524.6 1201.2L1522.9 1212.2L1522.4 1219" stroke="#c8c828" stroke-width="5.8"/>
</g>
<g id="curvesC" fill="none" stroke-linejoin="round" stroke-linecap="round">
<path d="M214.1 1376.5L214.1 1392.9L214.6 1404.5L217.1 1407.8L215.4 1414.4L217.1 1422.6L219.5 1429.2L224.5 1434.1L227 1442.4L227 1458.8L229.4 1465.4L232.7 1472L227.8 1475.3L227.8 1480.3L234.4 1481.9L237.7 1488.5L240.1 1503.3L241 1516.5L239.3 1524.7L244.3 1528L239.3 1533L245.9 1534.6L252.5 1539.6L252.5 1546.2L262.4 1547.8L278.8 1550.3L295.3 1552.8L311.8 1555.2L328.3 1556L344.7 1556.9L394.2 1561.4L443.6 1569.7L480 1575.4L476.5 1572.5L509.4 1576.6L550.6 1578.3L509.4 1582.4L496.2 1590.6L466.6 1589L460 1592.3L480 1589.4L466.7 1589.4L466.7 1592.7L443.6 1594.4L410.6 1598.5L410.6 1601L397.5 1603.4L395.8 1612.5L397.5 1622.4L410.6 1623.2L377.7 1629L359.6 1633.9L371.1 1633.9L371.1 1645.4L357.9 1648.7L369.5 1653.7L344.7 1657L343.1 1661.9L328.3 1666.9L305.2 1671.8L303.6 1676.7L297 1676.7L303.6 1681.7L278.8 1685L270.6 1688.3L245.9 1691.6L229.4 1694.9L212.9 1699.8L201.4 1704.7L201.1 1721.2L200.8 1737.7L200.6 1740L201.3 1745.2L200.7 1750.1L200.3 1755.3L200.9 1760.4L200.1 1766.3L200.1 1770.7L201 1776.6L201.4 1780.2L200.9 1786.6L200.2 1792L200.7 1795.5L200.3 1799.2L200 1803.4L200.6 1808.3L200.7 1814.3L200.7 1819.7L200.6 1825.2L201.4 1829.6L201.2 1836.1L200.4 1841.7L200.4 1845.9L201.1 1849.6L201.2 1854.3L201.3 1858.9L200 1865L201.3 1869.1L201.4 1874L200.1 1878.7L201.1 1884.1L200.1 1888.4L201.3 1892.9L200.2 1898.7L200.1 1902.9L201.1 1906.6L200.8 1910.6L200.3 1915.5L200.2 1921.2L200.2 1926.6L200.3 1931.4L201.4 1935.7L200.4 1941.6L200.3 1947.7L201.2 1952.4L200.1 1957.8L200.3 1964.3L201.1 1968.6L200.4 1973.1L200.1 1976.8L200.3 1982L200.5 1987.4L201.3 1992.2L200.8 1997.2L200.3 2003.3L201.3 2007.2L200.3 2013.2L201 2017.2L200.3 2023.6L201.2 2029.9L200.6 2035.2L200.1 2039L200.3 2045.4L200.4 2051L200.8 2057L200.2 2061.4L200.1 2067.1L200.8 2071.2L200.9 2077.3L201.3 2081.6L200 2085.8L200.6 2090.1L200.2 2093.7L200.8 2098.3L200.5 2102.2L201.4 2108.4L201 2113.9L200.2 2119.1L200 2122.7L201 2129L200 2135.4L200.7 2140.8L200.4 2146.5L200.1 2153L201 2158.1L201 2164.3L201.1 2169.9L200.5 2176.2L201.3 2181.7L200.6 2187.8L201.2 2193.7L200.9 2198.9L200.8 2203.6L200.1 2208.9L201.4 2214.3L201 2220.4L201 2225.1L200.6 2230.4L200.1 2236.4L200 2242.1L200.7 2247.4L201 2251.6L200.9 2256.6L200.4 2262.9L200.4 2266.4L200.3 2271.9L201.3 2275.9L200.6 2281.4L200.5 2287.6L200.7 2288" stroke="#05292b" stroke-width="5.8"/>
<path d="M233 1374L233.5 1409.4L242.6 1425.9L249.2 1439.1L255.8 1453.9L269 1483.6L275.6 1493.4L293.7 1513.2L303.6 1514.9L303.6 1519.8L295.3 1524.7L288.7 1528.9L303.6 1529.7L311.8 1541.2L328.3 1547.8L349.7 1547.8L394.2 1553.2L460.1 1559.3L460 1559.3L492.9 1562.6L534.1 1565.9L591.8 1566.7L641.2 1567.5L690.6 1568.9L707.1 1569.2L723.6 1577.4L707.1 1579.1L674.2 1580.7L651.1 1581.5L690.6 1584L740.1 1584.8L753.2 1587.3L723.6 1589.8L674.2 1591.4L624.7 1593.1L591.8 1594.2L562.1 1594.7L562.1 1598L525.9 1602.1L492.9 1604.6L460 1606.3L443.6 1605.9L410.6 1610L407.3 1611.7L427.1 1613.3L443.6 1617.4L410.6 1619.9L379.3 1622.4L344.7 1631.4L331.6 1633.9L344.7 1637.2L320 1640.5L303.6 1643.8L301.9 1653.7L262.4 1665.2L260.7 1670.1L265.7 1673.4L277.2 1678.4L277.2 1681.7L269 1686.6L249.2 1691.6L247.5 1701.4L250.8 1709.7L237.7 1711.3L234.4 1717.9L237.7 1722.9L226.1 1726.2L224.5 1731.1L236 1731.9L221.2 1736L236.7 1720L236.7 1723.9L225.1 1726.4L235.5 1730.3L223.8 1734.2L214.8 1735.5L211 1745.8L222.6 1751L211 1754.8L210 1758L210.3 1764.6L209.2 1769.3L209.6 1774.8L210.3 1781.9L210.1 1788.3L209.4 1794.9L209.5 1800.7L210 1800.8L198 1803L210 1805.2L209.3 1808.1L209.3 1815.3L209.7 1822L210.5 1827.6L209.3 1831.9L210 1829.8L200 1832L210 1834.2L210 1839.4L210.8 1843.9L209.4 1851.5L209.4 1857.2L210.2 1862.6L210.3 1867.3L209.5 1871.7L209.8 1878.9L210.2 1884.6L209.8 1890.5L210.4 1894.8L210.8 1902.5L209.8 1909.1L210.3 1914.6L209.4 1921.2L209.8 1926.3L210.5 1932.3L209.2 1938.3L209.9 1945.5L209.6 1951.5L209.8 1957.3L209.4 1964.2L209.5 1970.4L209.3 1977.1L209.8 1982.3L209.3 1988.8L209.5 1994.7L210 1992.8L197 1995L210 1997.2L210 1999.9L210 2007.5L209.5 2015.2L210 2014.8L197 2017L210 2019.2L209.8 2022.7L210.4 2027.6L209.2 2035.1L210.4 2040.2L209.6 2045.7L209.3 2049.9L210.8 2056.3L210 2064.1L209.7 2068.4L210 2068.8L198 2071L210 2073.2L210.5 2075.4L209.6 2081.9L210 2088L209.6 2094.5L210.6 2102.1L210 2100.8L222 2103L210 2105.2L209.7 2106.9L209.6 2114.2L210 2121.8L210.3 2128.5L209.7 2133.5L210.3 2138.6L209.4 2145.3L209.9 2152.7L209.9 2157.8L210.1 2165.5L210.7 2172L210.4 2179.6L210.1 2185.3L210.5 2192.8L209.8 2199.1L210.4 2204.6L209.2 2210.8L210.6 2217.6L210.6 2224.6L210.1 2232.1L209.8 2239.2L209.8 2243.7L210.7 2249L210.1 2255.7L209.4 2262.2L210.3 2268.3L209.6 2273.9L209.7 2279.6L209.4 2286.2L209.7 2290.8L210.4 2297.5L210.7 2304L209.2 2309.6L209.9 2315.5L210.3 2320.4L209.6 2325.8L210.7 2331.2L209.8 2335.4L209.5 2340.6L209.6 2346.4L210 2353.9L209.5 2360.6L210.2 2366.4L209.6 2373.7L210.6 2379.5L209.6 2386.7L210.4 2392.9L210.3 2398.5L210.8 2405.1L210.3 2411.3L210.4 2416.7L210 2422.1L209.7 2427.6L209.6 2432.3L209.6 2438.4L210.5 2442.8L210.7 2448L209.8 2454.4L210.6 2461.7L209.4 2467.1L210.5 2473.6L210 2475.5" stroke="#5b0f60" stroke-width="5.8"/>
<path d="M229.4 1374L229.4 1411.1L234.4 1442.4L237.7 1485.2L236 1491.8L239.3 1498.4L252.5 1500L262.4 1503.3L254.1 1506.6L269 1511.6L275.6 1516.5L277.2 1523.1L273.9 1528L282.1 1529.7L301.9 1533L303.6 1539.6L301.9 1546.2L311.8 1551.1L301.9 1556L301.9 1556.5L316.7 1558.1L328.3 1564.7L344.7 1566.4L359.6 1569.7L343.1 1572.9L361.2 1574.6L385.9 1581.2L427.1 1582.5L460.1 1582.3L492.9 1582L525.9 1582.4L558.8 1583.2L591.8 1583.7L609.9 1584.8L591.8 1589L558.8 1595.6L525.9 1598.8L509.4 1601.3L522.6 1605.4L492.9 1609.6L476.5 1612L460 1613.7L443.6 1614.1L410.6 1616.6L377.7 1620.7L376 1624L361.2 1625.7L328.3 1629L311.8 1633.9L295.3 1638.8L278.8 1643L277.2 1647.1L262.4 1648.7L257.4 1653.7L236 1657L236 1663.6L229.4 1666.9L221.2 1671.8L216.2 1688.3L216.2 1699.8L226.1 1698.2L212.9 1704.7L211.3 1737.7L209.6 1740L210.3 1746.7L209.5 1753.9L209.4 1759L210.4 1764L210.1 1768.6L209.7 1773.6L210.5 1779.4L209.2 1785.7L209.4 1790.9L210.5 1798.3L210.5 1805.4L210 1803.8L197 1806L210 1808.2L210.7 1812.3L209.6 1819.3L210 1826.6L210.1 1833.5L209.8 1839.2L209.7 1845L210.5 1849.6L210.8 1856.7L210 1857.8L201 1860L210 1862.2L210.1 1863.4L209.4 1870.3L209.9 1876.9L209.5 1881.7L209.6 1887.8L210.2 1893.7L209.4 1899.3L209.6 1905.3L209.5 1910.3L209.3 1915.8L210.7 1922.4L210.4 1928L209.3 1935.5L210.5 1940.3L210.2 1947.5L209.9 1952.2L210 1950.8L197 1953L210 1955.2L210.6 1959.6L209.5 1966.7L209.8 1973.9L209.4 1980.7L210.2 1988.4L209.5 1995.2L210.1 2001.6L210 2004.8L201 2007L210 2009.2L209.8 2008L209.7 2014.8L209.5 2020L210 2023.8L200 2026L210 2028.2L209.4 2026.7L209.3 2031.7L210 2034.8L197 2037L210 2039.2L210.1 2038.2L209.3 2044.4L209.7 2050.2L209.2 2054.7L209.4 2062.5L210 2063.8L198 2066L210 2068.2L209.6 2067.8L209.3 2074.1L209.8 2080L210 2084.8L200 2087L210 2089.2L209.2 2087.2L210 2092.6L210 2100.3L210.3 2106.2L209.3 2111.5L210.7 2117.5L209.6 2124.4L210.6 2131L210.1 2136.2L209.6 2141.6L209.5 2146.9L209.3 2152.3L209.3 2158L210.2 2164.9L210.4 2169.1L210 2174L209.7 2180.2L209.9 2185.4L210.6 2190.1L210.5 2194.7L209.7 2199.7L209.3 2205.3L209.8 2210L210.6 2215.8L209.3 2223.5L209.4 2229.7L209.7 2236.8L210 2241.8L222 2244L210 2246.2L210.1 2244.2L209.2 2248.8L210.6 2253.9L210 2258.7L209.8 2264.2L209.5 2271.3L210.3 2278.1L210 2285.6L209.9 2293.1L210.2 2299.4L210.6 2306.6L209.4 2311.2L210 2309.8L223 2312L210 2314.2L210.5 2317.4L209.7 2323.5L209.7 2331.2L209.3 2335.7L210.4 2340L210.3 2344.6L210.8 2351.9L209.9 2359L210.5 2365.4L209.7 2372.2L209.4 2379.2L210.8 2384.5L209.6 2390.4L209.9 2397.4L209.2 2401.6L209.7 2406.7L209.6 2414.3L210.6 2421.6L210.8 2427.3L210 2434.2L209.9 2439.3L210.1 2446.8L209.8 2451.7L209.5 2457.6L209.3 2463.9L209.5 2471L210 2475.5" stroke="#ff8cc6" stroke-width="5.8"/>
<path d="M223.2 1374L222.8 1397.9L224.5 1407.8L222.8 1414.4L225.3 1422.6L224.5 1429.2L229.4 1434.1L231.1 1439.1L234.4 1450.6L239.3 1462.1L245.9 1472L254.1 1478.6L260.7 1480.3L265.7 1491.8L275.6 1508.3L287.1 1516.5L295.3 1521.4L311.8 1524.7L316.7 1528L315.1 1536.3L308.5 1539.6L328.3 1542.9L344.7 1544.5L361.2 1546.2L377.7 1547L361.2 1549.5L344.7 1552.8L336.5 1555.2L344.7 1558.1L374.4 1561.4L377.7 1564.7L427.1 1572.9L460.1 1579L460 1579.1L509.4 1576.6L558.8 1575.8L608.3 1576.1L657.7 1577.1L690.6 1578.3L703.8 1580.7L690.6 1582.4L657.7 1584L624.7 1587.3L591.8 1589L558.8 1589.8L525.9 1591.4L517.7 1593.9L492.9 1596.4L460 1598.8L443.6 1600.1L410.6 1604.3L381 1607.5L379.3 1612.5L367.8 1615.8L366.2 1622.4L357.9 1632.3L328.3 1640.5L341.4 1647.1L320 1652L305.2 1655.3L298.6 1661.9L278.8 1665.2L277.2 1673.4L262.4 1678.4L249.2 1685L229.4 1690.7L222.8 1694.9L212.9 1698.2L211.3 1737.7L208.4 1740L209.2 1746.7L208.6 1754.3L209.4 1759.4L209 1763.8L199 1766L209 1768.2L208.7 1766L208.8 1772.7L208.4 1779.7L209.6 1784.7L208.6 1790.2L209.2 1797.3L209.1 1802L208.5 1808.6L208.4 1815.1L208.3 1820.5L209.8 1825.5L209.8 1831.1L209.2 1836.9L209 1835.8L198 1838L209 1840.2L209.3 1844.3L209.1 1848.9L208.5 1855.3L209.6 1859.9L208.5 1865.9L208.5 1871.8L209 1878.8L209.5 1883.4L208.6 1887.9L209.4 1892.2L209 1896.8L209 1901.4L209 1900.8L197 1903L209 1905.2L209.1 1908L209 1913.9L209.2 1919.6L209 1924.2L209.6 1929.2L208.3 1936.8L209.3 1941.5L208.2 1947.8L209.7 1954.5L208.8 1960.3L209.7 1966.5L208.7 1971.7L209.2 1976.5L208.6 1982.4L208.3 1988L209.8 1993.3L208.7 1999.7L208.8 2007.2L208.3 2012.3L208.5 2017.1L209.6 2022.1L208.6 2027.2L209.7 2033.6L209.4 2038.9L209.1 2044.4L209.7 2050.7L209 2057.7L208.8 2064.9L209.7 2070.5L209.4 2076.6L209.7 2082L208.6 2088.4L209 2095.9L208.6 2101.4L208.5 2105.9L208.4 2112.6L208.9 2117.7L208.8 2123.9L208.6 2130.9L208.9 2136.5L208.6 2141.1L209.4 2145.9L209.3 2150.6L209.2 2155.6L208.8 2162.1L209.3 2169.7L208.3 2175.9L208.6 2181.6L209.7 2187.5L208.3 2194.8L209.7 2201.4L208.4 2207.6L208.9 2214.9L209.6 2222.6L209.7 2229.8L209.5 2234.3L209 2234.8L220 2237L209 2239.2L208.4 2239.6L209.1 2245.1L209 2246.8L221 2249L209 2251.2L208.9 2249.3L209 2256.4L209 2256.8L220 2259L209 2261.2L208.7 2262.5L209 2263.8L221 2266L209 2268.2L208.6 2270.2L209.2 2276.8L209.8 2281L209.8 2286.1L209.6 2293.6L208.8 2300.9L208.8 2306.7L208.2 2314.3L209.7 2318.9L209.3 2326.1L209 2333.7L209 2337.8L221 2340L209 2342.2L208.9 2340.9L208.3 2348.4L209.1 2354.2L208.9 2361.2L209.7 2367.9L208.5 2373.6L209 2372.8L221 2375L209 2377.2L209.6 2377.9L208.8 2383.8L208.4 2389.9L208.6 2394.9L209.6 2400L208.3 2405.1L209.1 2412.4L209.3 2416.7L209.2 2423.4L208.9 2430.4L209.4 2435.4L209.3 2441.8L208.8 2446.7L208.8 2453.4L209 2459.7L208.8 2466.7L209.5 2472.6L209 2475.5" stroke="#86c440" stroke-width="5.8"/>
<path d="M235.2 1374L235.2 1442.4L234.4 1455.6L236 1465.4L234.4 1475.3L236 1481.9L249.2 1483.6L249.2 1500L248.4 1516.5L255.8 1518.2L247.5 1521.4L247.5 1526.4L257.4 1528.9L247.5 1531.3L252.5 1534.6L278.8 1537.9L311.8 1540.4L344.7 1542.9L353 1543.7L354.6 1551.1L377.7 1552.8L410.6 1555.2L435.4 1556.9L460.1 1558.1L476.5 1565.9L509.4 1570.8L558.8 1574.1L509.4 1577.4L476.5 1579.1L480 1579.5L443.6 1582.8L418.9 1584.5L377.7 1594.4L366.2 1596L366.2 1604.3L353 1605.9L366.2 1609.2L361.2 1614.1L353 1616.6L328.3 1619.1L311.8 1622.4L301.9 1625.7L300.3 1632.3L292 1637.2L278.8 1638.8L273.9 1642.1L272.3 1647.1L262.4 1650.4L259.1 1655.3L260.7 1658.6L249.2 1661.9L247.5 1668.5L234.4 1671.8L222.8 1676.7L221.2 1685L212.9 1696.5L211.3 1737.7L209.7 1740L209.4 1744.2L209.8 1749L209.6 1753.3L209.6 1759.9L208.6 1767.7L209.3 1773.1L208.6 1778.4L209.6 1783.4L209.5 1790.7L209 1792.8L200 1795L209 1797.2L209.7 1795.7L208.6 1801.8L208.9 1807.6L209.1 1812.1L209.1 1817.6L209.2 1825.1L209.6 1830.8L209 1838.6L208.2 1846.2L208.5 1850.9L209.3 1858.5L208.7 1865.3L209.6 1871.2L208.4 1875.8L208.9 1880.2L209.1 1887.4L209 1893L209.7 1897.9L208.6 1903.4L209.5 1908.7L209.6 1914L208.9 1919.4L209.7 1923.9L209 1931L209 1935.6L209.5 1941.1L209.4 1948.7L208.3 1953.9L209.7 1961.3L209 1966.1L209.8 1972L209 1972.8L199 1975L209 1977.2L208.3 1976.4L209.1 1983.6L209.4 1989.5L209.3 1995.8L208.3 2000.9L208.7 2005.2L208.8 2011.7L209.2 2017.2L209.2 2023.9L209.5 2029.2L209.6 2036.3L208.2 2043.7L208.8 2050.3L209 2055.9L208.6 2060.6L208.7 2068.4L209.3 2075.9L208.7 2081.2L209.3 2087.6L208.3 2093L209.6 2097.8L208.4 2104.7L209.1 2111.9L209.6 2117.3L208.4 2121.9L209.4 2127.4L209 2133.5L208.8 2141L208.2 2148L208.4 2155.1L209.5 2161.6L209.1 2168.2L209.4 2174.4L208.6 2179.9L209 2186.1L209 2190.7L208.5 2196.6L209.4 2203.3L209.6 2208.8L209.3 2216.5L208.6 2222.2L208.6 2226.8L208.3 2234.6L209.3 2242.1L208.4 2249.2L208.5 2255.7L209.5 2262.3L209.1 2269.1L209 2267.8L221 2270L209 2272.2L208.6 2276.5L209.6 2281.3L208.9 2285.7L209.6 2291.4L209.1 2296.9L209 2302.9L208.9 2308.8L208.9 2315.2L209.7 2320.9L208.6 2328.6L208.2 2336.2L209.6 2341.6L209.3 2346.4L209.2 2354.2L208.2 2360.1L208.9 2365.9L208.8 2372.9L208.8 2380L209.4 2386.5L209.7 2391.3L209 2397.1L209.1 2404.8L208.5 2410.9L209.4 2415.9L209.3 2421.9L209.3 2428.6L209.6 2434L208.5 2439.8L209.6 2447.1L209.6 2451.8L208.6 2458.4L209.7 2464.7L209.3 2469.5L208.4 2474.5L209 2475.5" stroke="#8e8f56" stroke-width="5.8"/>
<path d="M224.5 1374L223.7 1381.4L225.3 1388L224.5 1392.9L226.1 1398.7" stroke="#5f5f5f" stroke-width="5.8"/>
<path d="M234.4 1373.2L232.4 1392.9L232.7 1402.8L245.9 1407.8L242.6 1414.4L245.9 1422.6L254.1 1432.5L272.3 1436.6L259.1 1440.7L255.8 1445.7" stroke="#c843c8" stroke-width="5.8"/>
<path d="M283.8 1374L283.8 1384.7L275.6 1389.7L278.8 1394.6L292 1400.4L298.6 1406.1L321.7 1411.1L325 1421L334.9 1422.6L338.2 1427.5L346.4 1429.2L336.5 1434.1L346.4 1437.4L336.5 1442.4L344.7 1450.6L336.5 1453.9L336.5 1486.9L349.7 1491.8L351.3 1498.4L362.9 1501.7L356.3 1506.6L349.7 1508.3L336.5 1518.2L328.3 1528.9L344.7 1529.7L377.7 1531.3L427.1 1532.2L480 1533L509.4 1534.6L558.8 1535.9L573.7 1536.6L558.8 1543.7L534.1 1544.2L516 1543.2L492.9 1546.1L435.4 1562.2L377.7 1564.7L353 1574.6L351.3 1586.1L359.6 1589.4L344.7 1591.1L328.3 1596L295.3 1596.8L262.4 1597.7L229.4 1598.5L219.5 1600.1L218.7 1609.2L217.9 1622.4L208 1624.8L206.4 1629L208 1633.9L205.5 1637.2L206.4 1645.4L217.9 1653.7L206.4 1661.9L206.4 1671.8L205.5 1685L198.1 1689.1L204.7 1694.9L208 1704.7L209.7 1737.7L209 1740L209.2 1746.6L209.5 1751.5L209.5 1757.5L209.1 1763.3L209.8 1768.4L209.8 1773.8L210.1 1780.8L209.1 1788.4L209.9 1793.5L209 1799.8L210.1 1806.4L209 1813.6L208.7 1818.9L209.1 1826.6L209.6 1833.4L209.5 1839.8L209.7 1846.9L208.9 1852.2L210.2 1858.1L209.8 1862.9L209 1869.3L209.8 1874.3L209.4 1880L208.9 1886L209.6 1892.7L209.2 1898.8L210 1906L208.8 1912.1L208.9 1916.9L209.7 1921.3L209 1927.5L209.7 1935L210 1942L209.5 1948.7L208.9 1956.4L210.1 1963.1L210 1969L209.4 1973.9L209.3 1979.1L208.9 1985.8L210.1 1991.2L208.9 1996.5L209.6 2004.3L209.6 2008.5L209 2013.3L209.7 2020.1L209.5 2025.8L209.4 2032.1L209.9 2036.6L209.4 2043.6L209.7 2049.3L209.4 2055.2L210.1 2062.5L209 2067.2L210.2 2074.3L209.2 2081.1L210 2085.5L209.9 2093.1L210.3 2099.9L210.2 2106L208.8 2111.1L209.8 2118.4L208.9 2125.4L209.6 2130.7L209.2 2135.1L210.2 2141.5L209.3 2148.3L209.5 2154L210.3 2160.8L210.2 2165.1L208.8 2172.2L209.1 2177.3L209 2182.3L209.8 2187L208.9 2192.7L210 2200L210 2205.1L209.5 2212.1L209.8 2216.6L210.1 2224L209 2231.6L208.8 2239.3L209.6 2244.8L209.5 2251.3L209.9 2258.8L209.8 2266.1L208.7 2271.9L210.2 2278.4L210.3 2283.3L209.3 2287.6L209.8 2294.5L209.1 2300.8L208.9 2305.9L208.7 2312.4L209.8 2317L208.7 2322.8L210.2 2328.6L209.1 2334.6L209.5 2339.3L209.1 2344.4L209.7 2348.8L209.5 2355.9L209.2 2362.3L209.2 2370L208.7 2377.5L210.1 2384.1L209 2390.4L210.3 2395.2L209.1 2402.9L210 2408.6L208.7 2415.9L209.1 2422.1L209.8 2426.6L209 2432.6L209.2 2439.5L209.2 2444.6L210 2449.6L210.2 2454.9L209.6 2461.6L209.3 2469L209.7 2473.4L209.5 2475.5" stroke="#8c8cff" stroke-width="5.8"/>
<path d="M303.2 1373.2L303.2 1391.3L295.3 1392.9L288.7 1396.2L278.8 1399.5L262.4 1403.7L257.4 1404.5L254.1 1421L262.4 1427.5L262.4 1442.4L270.6 1449.8L262.4 1453.9L262.4 1462.1L275.6 1472L265.7 1477L269 1481.9L278.8 1485.2L287.1 1490.1L285.4 1496.7L295.3 1503.3L311.8 1508.3L328.3 1513.2L354.6 1518.2L328.3 1523.1L344.7 1523.9L377.7 1524.7L427.1 1525.6L480 1526.4L509.4 1526L558.8 1527.2L591.8 1528.3L608.3 1527.2L624.7 1526.4L641.2 1528L639.6 1532.1L661 1534.6L654.4 1537.9L641.2 1538.7L624.7 1542L628 1544.5L608.3 1547.8L595.1 1551.1L575.3 1552.7L572 1555.2L600 1556.8L601.7 1560.1L583.6 1561L558.8 1561.8L534.1 1563.4L535.8 1568.4L525.9 1570.8L501.2 1567.5L492.9 1570L476.5 1572.5L460 1575L451.8 1574.6L422.2 1577.1L450.2 1580.4L437 1583.7L433.7 1587.8L410.6 1590.2L385.9 1593.5L394.2 1598.5L361.2 1601L328.3 1603.4L295.3 1605.1L277.2 1605.9L275.6 1610.8L262.4 1614.1L250.8 1616.6L245.9 1620.7L229.4 1622.4L224.5 1629L221.2 1630.6L214.6 1640.5L224.5 1640.5L215.4 1645.4L222.8 1648.7L215.4 1655.3L215.4 1660.3L224.5 1661.9L216.2 1666.9L224.5 1668.5L216.2 1671.8L212.9 1688.3L196.5 1701.4L212.9 1704.7L236 1708.9L212.9 1711.3L201.4 1713L204.7 1721.2L199.8 1729.5L222.8 1732.8L212.9 1736L210 1730.8L223 1733L210 1735.2L210.2 1738L210 1745L209.9 1751.1L209.7 1758.9L209.7 1763.6L209.8 1768.7L209.5 1773.9L209.7 1779.3L209.6 1785.5L209.6 1790L210 1787.8L198 1790L210 1792.2L209.8 1796.1L210 1797.8L200 1800L210 1802.2L210.4 1803L209.4 1808.7L210.4 1815.5L210.2 1821.1L210.6 1826.4L210 1827.8L197 1830L210 1832.2L210.4 1833.6L209.6 1841.2L210.3 1847.4L209.8 1854.5L210.2 1859.2L210.3 1863.7L209.9 1868L209.5 1873.9L210 1879.8L210.6 1885.3L210.5 1892.7L209.3 1897.7L209.5 1903.3L209.7 1910L209.7 1914.7L210.3 1920.4L209.7 1926.2L209.4 1932.9L210.3 1937.8L209.4 1944.7L210 1949.2L209.3 1955.7L210 1957.8L198 1960L210 1962.2L209.7 1961.5L209.5 1966L210 1971.2L210.2 1975.8L210 1980.8L198 1983L210 1985.2L210.3 1983.2L210.2 1987.6L209.3 1994.1L210.2 1999.7L210.6 2007.3L210.1 2013.6L209.6 2021.2L209.4 2027.3L210.2 2034.2L209.6 2039.2L210.4 2045.3L209.8 2050L209.7 2056L210 2055.8L197 2058L210 2060.2L210.3 2063.4L210.2 2071L209.7 2077.7L209.9 2083.7L209.4 2089.6L209.5 2096.9L210.6 2102.7L210.5 2108.8L210 2113.9L209.8 2119.5L209.9 2125L210.7 2132.3L210 2130.8L218 2133L210 2135.2L210.2 2136.8L209.9 2142.9L209.8 2147.2L209.8 2152.6L209.8 2158.9L209.7 2164.2L209.8 2171.9L209.5 2179.6L210.1 2186.2L210 2193L210.1 2200.3L210.3 2204.7L210 2204.8L220 2207L210 2209.2L210 2208.8L221 2211L210 2213.2L209.6 2211.1L210.5 2217.9L209.5 2223.1L210 2228L221.6 2233.9L209.1 2241.9L222.6 2246.9L209.7 2252.8L212.1 2259.3L208.5 2264.9L219.4 2270.3L208.9 2277.9L208.9 2283.7L208.4 2292.7L210.5 2296.6L209 2309.1L213.9 2314.1L209.8 2320.2L208.5 2325.1L209.2 2334.1L221.8 2338.5L208.4 2344.9L207.2 2349.2L209 2356.3L210.2 2361.2L208.6 2369.1L213.9 2375.5L208.8 2381.1L216 2386.4L209.6 2391.5L222.8 2395.4L209.4 2403.6L221.5 2409L209.4 2419.4L206.2 2423.7L208.8 2431.6L221.9 2436.9L209.5 2446.2L212.3 2452.6L209.5 2460.4L210.8 2464.9L208.6 2471L220.7 2475.1L209 2475.5" stroke="#5e2a07" stroke-width="5.8"/>
<path d="M277.2 1375.7L259.1 1378.9L262.4 1384.7L259.1 1392.9L249.2 1395.4L249.2 1402.8L259.1 1404.5L252.5 1409.4L260.7 1412.7L252.5 1417.7L249.2 1425.9L242.6 1430.8L236 1435.8L237.7 1447.3L241 1452.3L254.1 1457.2L262.4 1460.5L260.7 1467.1L269 1473.7L275.6 1477L277.2 1486.9L285.4 1490.1L287.1 1493.4L282.1 1496.7L295.3 1501.7L311.8 1505L328.3 1508.3L344.7 1511.6L361.2 1514.9L377.7 1517.3L410.6 1519L443.6 1519.5L480 1519.8L492.9 1520.6L525.9 1521.4L558.8 1522.2L588.5 1523.9L603.3 1526.4L608.3 1529.7L600 1532.1L585.2 1532.9L600 1535.4L619.8 1537.1L608.3 1542.8L591.8 1547L558.8 1547.8L525.9 1549.4L506.1 1549.4L517.7 1552.7L492.9 1554.4L468.2 1556.8L460 1557.7L480 1557.6L435.4 1559.8L460.1 1563.1L480 1566.4L476.5 1561.8L492.9 1563.4L476.5 1565.1L460.1 1572.1L410.6 1575.4L377.7 1577.9L344.7 1579.5L328.3 1580.4L315.1 1586.1L303.6 1589.4L315.1 1592.7L295.3 1596.8L262.4 1601L245.9 1603.4L236 1607.5L234.4 1612.5L224.5 1615.8L222.8 1624L212.9 1629L221.2 1635.6L211.3 1642.1L212.1 1655.3L211.3 1671.8L210.5 1688.3L219.5 1694.9L209.7 1698.2L211.3 1713L212.9 1737.7L213.6 1740L213.4 1746.7L213 1745.8L201 1748L213 1750.2L212.7 1754.1L213.6 1760.6L213.1 1768L213 1767.8L204 1770L213 1772.2L212.9 1772.8L212.4 1780.5L213.6 1785.9L212.6 1791.7L213.6 1797.1L212.9 1802.5L213 1803.8L203 1806L213 1808.2L213.4 1808.9L212.4 1814.9L212.3 1821.2L212.6 1825.7L212.7 1832.4L212.5 1839.1L213 1837.8L202 1840L213 1842.2L212.3 1843.7L213.5 1850.4L212.6 1855.4L213.2 1859.7L212.5 1865L213.1 1871.5L212.5 1877.3L213.1 1883.8L212.5 1889.6L213.5 1897.1L213.7 1903.8L212.8 1910.1L213.2 1914.7L212.9 1920.8L213.5 1928.5L213.5 1933.1L213.2 1937.4L213.3 1942.7L213 1950.3L212.4 1957.3L212.5 1963.9L212.8 1969.7L213.3 1974.2L212.7 1978.7L213.2 1983.2L212.4 1988.5L212.6 1992.8L212.3 1998.8L213.2 2003.1L212.5 2009.2L212.5 2014.5L212.8 2019.7L212.6 2024.7L212.7 2029.7L213.5 2035.9L212.9 2042.4L212.6 2046.7L212.9 2053.1L213.6 2060.4L212.8 2065.7L213.2 2070.9L212.7 2075.5L212.8 2082.9L212.9 2090.5L212.9 2097.8L213.1 2102.3L213.6 2107.3L213 2114L213.1 2121.5L213.3 2129.2L212.7 2134L212.4 2141.3L212.4 2149L213 2147.8L224 2150L213 2152.2L213.2 2155.9L213.1 2161.6L212.8 2167.9L212.4 2173.1L213.5 2179.7L213.5 2185.2L212.7 2190.8L213.6 2197.9L213.5 2202.5L213.4 2207.8L213.7 2213.1L213 2214.8L224 2217L213 2219.2L212.6 2218.5L212.5 2222.9L213.4 2227.4L213 2228L214.8 2232.9L210.7 2239.2L216 2242.4L209.6 2251.1L209.8 2254.8L210.3 2262.8L222 2266.5L209.5 2271.5L210.9 2275.5L209.5 2282L208 2286.8L210.6 2293.5L207.6 2297.4L210.3 2303.5L219.7 2307.3L210.5 2313.4L215.3 2317.8L209.8 2321.8L206.5 2325.4L209.4 2333.7L216.3 2337.5L209.6 2344.6L214.2 2349L209.8 2354L222.9 2358L210.6 2366L212 2370.1L209.7 2376.7L210 2380.8L210.6 2388.8L208.6 2393.7L209.6 2397.2L216.9 2400.4L209.9 2410.1L210.2 2414.5L210.8 2421.1L221.3 2425.1L209.4 2429.7L220.2 2433.4L209.5 2438.8L220.1 2443.4L210.4 2449.6L216.4 2453.2L210.2 2458.5L218.6 2462.3L209.9 2467.4L208.8 2471.7L210 2475.5" stroke="#00ffff" stroke-width="5.8"/>
<path d="M236.8 1374.8L237.7 1384.7L242.6 1389.7L244.3 1394.6L237.7 1397.9L236 1404.5L244.3 1406.1L237.7 1411.1L245.9 1416L236.8 1421L237.7 1429.2L249.2 1432.5L237.7 1439.1L245.9 1442.4L250.8 1447.3L250.8 1458.8L260.7 1463.8L254.1 1468.7L262.4 1472L262.4 1483.6L263.2 1496.7L269 1500L278.8 1503.3L295.3 1506.6L311.8 1509.9L328.3 1514L339.8 1516.5L343.1 1523.1L361.2 1526.4L377.7 1529.7L394.2 1533L418.9 1536.3L443.6 1537.1L480 1538.7L509.4 1538.7L558.8 1540.4L608.3 1541.2L657.7 1542L700 1542L732.9 1543.6L765.9 1545.8L798.8 1547.5L831.8 1549.1L851.6 1551L820.8 1552.9L787.9 1552.9L754.9 1552.9L740.6 1554.6L765.9 1556.2L798.8 1556.8L818.6 1558.4L809.8 1561.2L776.9 1561.7L743.9 1562.3L722 1561.7L705.5 1561.7L724.2 1565L719.8 1568.3L715.4 1570L690.6 1571.7L723.6 1573.3L743.4 1576.6L745 1579.1L731.8 1583.2L707.1 1585.7L674.2 1587.3L641.2 1589L628 1590.6L665.9 1594.7L641.2 1597.2L608.3 1599.7L591.8 1600.5L628 1603.8L600 1607.1L578.6 1609.6L608.3 1613.7L631.3 1615.3L591.8 1617.8L558.8 1619.4L525.9 1621.9L492.9 1624.4L460 1626L443.6 1625.7L410.6 1626.5L394.2 1629L372.8 1630.6L405.7 1633.9L377.7 1637.2L353 1640.5L344.7 1643.8L311.8 1645.4L288.7 1648.7L316.7 1650.4L311.8 1655.3L295.3 1658.6L278.8 1661.9L277.2 1668.5L262.4 1670.1L245.9 1671.8L226.1 1673.4L222.8 1678.4L222 1685L211.3 1688.3L210.5 1701.4L196.5 1704.7L211.3 1708L211.3 1717.9L196.5 1722L211.3 1726.2L211.3 1737.7L211 1723.8L198 1726L211 1728.2L211.4 1740L210.6 1744.7L211 1742.8L197 1745L211 1747.2L211 1749.8L199 1752L211 1754.2L210.7 1752.5L211.1 1757.1L211.3 1762.6L211.4 1767.6L211.1 1773L211 1775.8L198 1778L211 1780.2L211.1 1780.5L211.2 1788L211.3 1792.4L210.8 1798.7L211.3 1803.6L211.4 1809.9L211 1809.8L199 1812L211 1814.2L211.4 1816.9L211 1817.8L201 1820L211 1822.2L211.2 1823.1L210.8 1829.6L210.8 1837.2L211.4 1844.2L210.7 1850.8L211 1848.8L198 1851L211 1853.2L211.1 1857.9L210.6 1862.8L211 1861.8L199 1864L211 1866.2L210.6 1868.9L211 1876.4L211 1877.8L197 1880L211 1882.2L210.9 1882.5L211.3 1889.1L211 1890.8L199 1893L211 1895.2L210.9 1894.4L210.8 1900.7L211 1907L211.1 1912.8L210.7 1918.9L210.9 1926.7L210.9 1932.4L211.4 1940L211 1939.8L197 1942L211 1944.2L210.9 1946L211.3 1950.6L211 1955.4L210.9 1960.8L210.8 1966.3L211 1970.7L211.1 1977.7L211.2 1982.6L210.9 1987L211.3 1994.2L211.3 2000.1L211 2006.1L211.4 2012.4L211 2019.3L211.1 2026.1L211.2 2031.5L211.1 2038.7L210.6 2046.3L211.1 2052.3L210.7 2057.7L210.9 2064.4L210.6 2069.6L210.9 2077.3L210.8 2081.9L211.3 2087L210.8 2091.8L211 2096.4L210.9 2101.3L211.3 2108.2L210.6 2115.4L211.3 2121L210.8 2125.3L210.9 2131.2L211.2 2138.1L210.8 2144L210.8 2149L211.1 2153.5L211.3 2158.2L211 2158.8L224 2161L211 2163.2L210.6 2164.8L211.1 2170.8L211 2175.1L211.2 2179.4L211.1 2183.6L211.3 2191.4L211 2196.4L210.9 2201.1L211.3 2208.4L210.9 2212.7L210.7 2219.2L211 2221.8L224 2224L211 2226.2L211.3 2226.3L211 2228L222.1 2231.2L211.4 2239.4L223.4 2242.9L211.1 2250.3L223.4 2253.2L211.1 2259.6L224.8 2263L210.7 2269.6L219.9 2273.7L211.8 2278.9L221.3 2282.6L211.2 2288.2L219.5 2291.7L211.2 2296.6L224.6 2300.3L211.8 2307.7L221.4 2311.6L211.7 2316.6L221.7 2320.4L210.9 2323.9L224.1 2327.1L211.3 2333.3L220.2 2337.1L210.7 2342.5L221.9 2346.5L211.2 2353.5L219.3 2357.6L211.7 2365.1L223.7 2369L210.6 2376.2L223.4 2380.2L210.6 2386.2L222.2 2390.5L210.6 2397L223.7 2400L210.7 2405L221.3 2409.1L210.3 2414L225 2417.4L211.3 2425.2L222 2429.4L210.3 2435.2L220 2439.7L210.4 2444.3L222.1 2447.9L211.3 2453.1L220 2457L211.7 2463L224 2467.2L211.3 2470.5L222.1 2474.8L211 2475.5" stroke="#c8c828" stroke-width="5.8"/>
</g>
<g id="curvesD" fill="none" stroke-linejoin="round" stroke-linecap="round">
<path d="M2136.8 1385.9L2137 1391.2L2136.6 1396.5L2137.5 1401.9L2138.8 1407.2L2140.2 1412.5L2140 1417.8L2140.6 1423.4L2141.6 1428.9L2141.5 1434.5L2143.1 1440.1L2143.4 1445.6L2144.7 1451.2L2135.2 1464L2144.7 1471.9L2142.9 1477.2L2139.1 1482.5L2136.8 1487.9L2138.7 1495L2140 1502.2L2146.3 1510.1L2144.5 1517.3L2144.7 1524.5L2135.2 1537.2L2144.7 1550L2132 1567.5L2103.3 1570.7L2071.5 1577L2052.4 1581.8L2023.7 1585L1991.9 1589.8L1960 1592.2L1960.1 1592.5L1910.6 1600.7L1861.2 1607.3L1836.5 1611.4L1825 1615.6L1825 1625.4L1828.3 1633.7L1834.9 1640.3L1831.6 1646.9L1811.8 1650.1L1798.6 1653.4L1805.2 1656.7L1823.3 1661.7L1811.8 1664.2L1795.3 1668.3L1778.8 1674.9L1762.4 1679L1737.7 1688L1712.9 1691.3L1680 1694.6L1683.6 1695.7L1634.2 1701.4L1584.7 1705.5L1551.8 1709.7L1527.1 1713.8L1512.3 1717.9L1499.1 1726.1L1489.2 1734.4L1482.6 1745.9L1492.5 1759.1L1487.5 1767.3L1489.2 1775.6L1477.7 1787.1L1477.7 1792L1494.1 1795.3L1518.8 1802.7L1543.6 1810.1L1556.7 1815.1L1535.3 1820L1512.3 1825L1500.7 1831.6L1509 1839.8L1512.3 1844.7L1527.1 1853L1535.3 1861.2L1518.8 1871.1L1494.1 1877.7L1459.5 1885.1L1477.7 1894.2L1494.1 1899.1L1510.6 1905.7L1535.3 1909.8L1561.7 1913.9L1560.7 1921.4L1562.4 1926.4L1555.8 1932.9L1555.8 1941.2L1554.1 1956L1559.1 1964.3L1572.3 1972.5L1572.3 1979.1L1582.1 1985.7L1595.3 1995.6L1597 2002.1L1605.2 2007.1L1623.3 2013.7L1620 2021.9L1628.3 2025.2L1661.2 2030.1L1685.9 2036.7L1710.6 2041.7L1730.4 2046.6L1743.6 2056.5L1760.1 2064.7L1780 2069.7L1798.8 2077.1L1812 2085L1817.3 2092.9L1819.9 2103.4L1812 2110L1804.1 2114L1805.4 2117.9L1816 2124.5L1825.2 2133.7L1830.5 2141.6L1831.8 2144L1851.6 2150.5L1870 2154.5L1870 2166.4L1868.7 2172.9L1871.3 2179.5L1870 2184.8L1862.1 2192.7L1858.2 2200.6L1850.2 2205.9L1850.2 2216.4L1847.6 2225.7L1846.3 2234.9L1838.4 2240.2L1825.2 2244.1L1812 2248.1L1798.8 2254.7L1779.1 2261.3L1759.3 2269.2L1746.1 2274.4L1739.5 2281L1726.4 2288.9L1706.6 2297.5" stroke="#05292b" stroke-width="3.6"/>
<path d="M2122.4 1381.1L2120.9 1396.3L2125.6 1405L2126 1410.6L2127.2 1416.2L2126.6 1421.2L2127 1426.3L2126.8 1431.3L2127.7 1436.4L2129.5 1441.4L2128.8 1446.4L2127.3 1451.8L2124.8 1457.1L2124 1462.4L2128.8 1471.9L2125.6 1481.5L2127.9 1487.1L2132 1492.6L2125.6 1502.2L2124.6 1507.8L2124 1513.3L2124.8 1518.6L2127.3 1524L2127.2 1529.3L2128.2 1534.6L2130.4 1539.9L2130.4 1545.2L2132 1550L2119.3 1556.3L2120.9 1562.7L2132 1567.5L2127.2 1572.3L2103.3 1577L2087.4 1581.8L2071.5 1586.6L2060.3 1588.2L2023.7 1591.4L1979.1 1595.4L1980 1599.1L1927.1 1602.4L1894.2 1604L1861.2 1605.7L1828.3 1607.3L1806.9 1609.8L1805.2 1613.9L1787.1 1615.6L1783.8 1618.8L1795.3 1622.1L1811.8 1623.8L1828.3 1625.4L1844.7 1627.9L1861.2 1633.7L1869.5 1638.6L1877.7 1645.2L1890.9 1653.4L1900.8 1658.4L1905.7 1666.6L1910.6 1671.6L1927.1 1674.9L1937 1679L1927.1 1682.3L1894.2 1685.6L1844.7 1688L1795.3 1690.5L1745.9 1692.2L1696.5 1694.6L1681.6 1697.1L1688.2 1700.4L1712.9 1702.9L1745.9 1706.2L1778.8 1707.8L1811.8 1711.1L1825 1716L1829.9 1721L1828.3 1725.9L1834.9 1732.5L1828.3 1739.1L1812 1745.3L1792.3 1753.2L1772.5 1759.1L1761.9 1763.7L1771.2 1770.3L1769.9 1778.2L1777.8 1784.8L1779.1 1798L1779.1 1811.2L1775.1 1821.7L1772.5 1830.9L1759.3 1834.9L1739.5 1838.2L1713.2 1840.2L1700 1841.5L1683.6 1842.3L1672.1 1846.4L1667.1 1853L1650.6 1861.2L1634.2 1867.8L1617.7 1870.3L1597.9 1874.4L1593 1882.6L1594.6 1889.2L1609.5 1895.8L1625.9 1902.4L1634.2 1909L1635.8 1915.6L1628.3 1903.3L1636.5 1911.5L1633.2 1921.4L1634.9 1929.7L1644.7 1939.5L1649.7 1949.4L1661.2 1962.6L1669.5 1966.7L1694.2 1970.8L1710.6 1975.8L1713.9 1980.7L1727.1 1987.3L1743.6 1993.9L1760.1 1998.8L1768.3 2002.1L1780.4 2021.1L1773.8 2040.2L1771.8 2052L1772.5 2065.2L1773.8 2075.7L1779.1 2083.7L1792.3 2088.9L1794.9 2092.9L1785.7 2100.8L1772.5 2108.7L1752.7 2115.3L1739.5 2121.9L1730.3 2127.1L1732.9 2135.1L1734.3 2143L1739.5 2149.6L1742.2 2156.1L1739.5 2146.6L1742.2 2153.2L1739.5 2166.4L1739.5 2179.5L1746.1 2184.8L1759.3 2188.8L1743.5 2192.7L1734.3 2195.4L1734.3 2199.3L1742.2 2204.6L1743.5 2211.2L1746.1 2217.8L1739.5 2224.3L1729 2230.9L1726.4 2237.5L1732.9 2242.8L1746.1 2246.8L1759.3 2249.4L1767.2 2253.3L1759.3 2258.6L1739.5 2262.6L1719.8 2265.2L1700 2267.2L1693.3 2269.1L1669.1 2271.6L1645 2276.4L1620.8 2282.4L1602.7 2288.5L1594.2 2294.5L1589.4 2296L1586.4 2302.1L1594.2 2308.1L1608.7 2313L1626.9 2317.8L1645 2321.4L1663.1 2326.2L1671.6 2332.3L1680 2339.5L1669.1 2344.4L1651 2349.2L1626.9 2353.4L1608.7 2357.7L1599.1 2363.7L1595.4 2370.9L1599.1 2380.6L1608.7 2387.9L1613.6 2396.3L1614.2 2404.8L1616 2413.2L1620.8 2420.5L1632.9 2427.7L1640.1 2435L1645 2443.4L1654.6 2451.9L1659.5 2459.1L1660.7 2471.2L1661.9 2483.3" stroke="#5b0f60" stroke-width="3.6"/>
<path d="M2155.1 1383.5L2152.7 1389.1L2155.9 1395.5L2154.6 1401.9L2151.1 1408.2L2147.9 1414.6L2148.1 1421L2147.4 1427.3L2146.3 1433.7L2146.9 1439L2147.2 1444.3L2146.3 1449.6L2147.4 1454.9L2147.6 1460.2L2147.9 1465.6L2147.2 1470.9L2149.9 1476.2L2149.5 1481.5L2146.3 1491L2147.6 1496.6L2151.1 1502.2L2146.3 1510.1L2144.9 1515.7L2144.7 1521.3L2141.7 1528.5L2140 1535.6L2141.6 1545.2L2141.4 1550.5L2139.4 1555.8L2140 1561.1L2140.6 1566.7L2141.6 1572.3L2138.4 1578.6L2141.6 1584.2L2112.9 1589.8L2087.4 1591.4L2055.6 1593L2023.7 1596.2L1991.9 1598.5L1979.1 1599.3L1980 1599.1L1943.6 1604L1910.6 1608.1L1890.9 1611.4L1861.2 1617.2L1844.7 1619.7L1833.2 1627.1L1815.1 1632L1825 1633.7L1838.2 1635.3L1839.8 1641.9L1836.5 1651.8L1831.6 1658.4L1811.8 1668.3L1782.1 1676.5L1778.8 1684.7L1773.9 1694.6L1762.4 1702.9L1750.8 1709.5L1734.4 1716L1722.8 1724.3L1716.5 1734.4L1700.1 1742.6L1691.8 1750.8L1690.2 1759.1L1686.9 1769L1685.2 1778.8L1677 1788.7L1673.7 1797L1663.8 1808.5L1647.3 1815.1L1644.1 1821.7L1645.7 1828.3L1649 1833.2L1645.7 1839.8L1649 1848L1653.9 1857.9L1663.8 1869.5L1673.7 1876L1680.3 1884.3L1690.2 1890.9L1695.1 1900.8L1700.1 1910.6L1692.5 1900L1697.5 1909.9L1707.3 1924.7L1715.6 1937.9L1723.8 1947.8L1727.1 1957.7L1732.1 1969.2L1735.4 1982.4L1738.6 1993.9L1751.8 2000.5L1768.3 2005.4L1785.7 2024.3L1796.2 2032.3L1805.4 2044.1L1810.7 2053.3L1813.3 2063.9L1818.6 2074.4L1826.5 2085L1830.5 2091.6L1831.8 2098.2L1825.2 2107.4L1826.5 2116.6L1821.3 2124.5L1812 2131.1L1798.8 2135.1L1794.9 2140.3L1785.7 2153.2L1772.5 2163.7L1759.3 2174.3L1746.1 2179.5L1736.9 2184.8L1732.9 2195.4L1736.9 2205.9L1739.5 2215.1L1743.5 2225.7L1744.8 2232.3L1752.7 2238.8L1759.3 2246.8L1756.7 2254.7L1750.1 2263.9L1742.2 2271.8L1736.9 2282.3L1726.4 2292.9L1713.2 2300.8L1705.4 2302.1L1688.5 2308.1L1681.2 2315.4L1684.8 2323.8L1693.3 2329.9L1711.4 2335.9L1719.8 2337.7L1736.9 2344.3L1738.2 2349.6L1726.4 2354.8L1720 2355.8L1693.3 2361.3L1669.1 2367.3L1654.6 2374.6L1663.1 2383L1672.8 2392.7L1675.2 2404.8L1681.2 2412L1693.3 2418.1L1705.4 2422.9L1704.2 2432.6L1707.8 2443.4L1715.1 2453.1L1717.4 2457.7L1725.7 2469.2L1727.3 2483.2" stroke="#ff8cc6" stroke-width="3.6"/>
<path d="M2173.4 1383.5L2178.2 1387.5L2175 1397.1L2163.9 1401.9L2163.1 1408.2L2162.3 1414.6L2163.2 1421L2164.2 1427.3L2167 1433.7L2168.6 1443.3L2167.7 1448.8L2167 1454.4L2162.3 1462.4L2164.6 1468.7L2164.7 1475.1L2165.4 1481.5L2164.8 1486.8L2164.4 1492.1L2163.9 1497.4L2164.3 1502.7L2166.5 1508L2167 1513.3L2166.2 1518.6L2163.9 1524L2163.9 1529.3L2164.3 1534.6L2163.4 1539.9L2162.3 1545.2L2165.4 1553.2L2164.4 1558.7L2162.3 1564.3L2170.2 1572.3L2167 1575.4L2135.2 1581.8L2103.3 1586.6L2071.5 1589.8L2023.7 1593L1991.9 1595.4L1979.1 1596.2L1980 1597.4L1943.6 1599.1L1894.2 1600.7L1861.2 1601.5L1828.3 1604L1810.1 1609.8L1813.4 1615.6L1813.4 1622.1L1820 1628.7L1818.4 1635.3L1828.3 1640.3L1834.9 1645.2L1828.3 1651.8L1825 1656.7L1831.6 1663.3L1844.7 1666.6L1861.2 1671.6L1879.3 1678.2L1872.8 1683.1L1856.3 1693L1869.5 1697.1L1894.2 1701.2L1910.6 1706.2L1912.3 1714.4L1913.9 1725.9L1914.8 1739.1L1899 1763.7L1895.1 1772.9L1884.5 1780.9L1858.2 1788.8L1845 1795.4L1818.6 1803.3L1805.4 1808.5L1792.3 1816.4L1790.9 1821.7L1797.5 1827L1797.5 1832.3L1787 1840.2L1784.3 1849.4L1798.8 1856L1812 1863.9L1831.8 1866.5L1851.6 1870.5L1862.1 1874.4L1851.6 1878.4L1838.4 1883.7L1851.6 1891.6L1838.4 1898.2L1818.6 1902.1L1792.3 1904.7L1771.2 1911.3L1785.7 1915.3L1805.4 1917.9L1819.9 1921.9L1812 1927.1L1792.3 1933.7L1776.4 1939L1783 1945.3L1768.5 1957.1L1759.3 1971.6L1763.3 1979.5L1773.8 1992.7L1779.1 2001.9L1789.6 2008.5L1792.3 2019.1L1794.9 2029.6L1789.6 2038.8L1779.1 2045.4L1755.4 2054.7L1752.7 2061.3L1759.3 2070.5L1756.7 2078.4L1765.9 2085L1752.7 2094.2L1750.1 2102.1L1754 2108.7L1751.4 2116.6L1755.4 2124.5L1765.9 2131.1L1792.3 2136.4L1812 2141.6L1821.3 2147.6L1805.4 2153.2L1785.7 2159.8L1773.8 2166.4L1772.5 2172.9L1775.1 2182.2L1773.8 2192.7L1775.1 2200.6L1792.3 2204.6L1804.1 2208.5L1792.3 2213.8L1768.5 2221.7L1763.3 2228.3L1752.7 2230.9L1726.4 2234.9L1700 2238.8L1693.3 2238.9L1669.1 2245L1657.1 2251L1645 2258.3L1632.9 2265.5L1624.4 2271.6L1626.9 2276.4L1645 2280L1669.1 2283.6L1693.3 2288.5L1707.8 2290.9L1720.7 2292.9L1733.9 2299.5L1755.3 2306.1L1771.8 2314.4L1788.3 2324.3L1803.1 2332.5L1796.5 2339.1L1771.8 2345.7L1758.6 2353.9L1757 2362.1L1738.8 2375.3L1714.1 2380.3L1689.4 2385.2L1677.9 2395.1L1676.2 2403.3L1681.2 2409.9L1697.7 2416.5L1714.1 2424.7L1722.4 2433L1729 2441.2L1745.4 2449.5L1742.1 2461L1745.4 2472.5L1750.4 2483.2" stroke="#86c440" stroke-width="3.6"/>
<path d="M2186.2 1383.5L2179.8 1385.1L2183 1393.9L2179.8 1401.9L2181.9 1407.4L2186.2 1413L2184 1418.6L2183 1424.1L2179.8 1433.7L2182.5 1440.1L2183 1446.4L2179.8 1456L2176.6 1465.6L2177.6 1470.9L2179.3 1476.2L2179.8 1481.5L2179.4 1486.8L2177.4 1492.1L2176.6 1497.4L2179.8 1505.4L2178 1510.7L2177 1516L2175 1521.3L2176.1 1526.9L2178.2 1532.4L2171.8 1538.8L2173.4 1548.4L2170.2 1556.3L2159.1 1561.1L2135.2 1563.5L2103.3 1566.7L2081 1569.9L2071.5 1575.4L2039.6 1580.2L2007.8 1584.2L1979.1 1586.9L1980 1585.9L1943.6 1588.4L1910.6 1590L1861.2 1591.7L1828.3 1592.5L1803.6 1595.8L1792 1600.7L1789.6 1604L1793.7 1607.3L1792 1612.3L1798.6 1615.6L1811.8 1617.2L1828.3 1620.5L1861.2 1623L1885.9 1623.8L1899.1 1628.7L1890.9 1633.7L1861.2 1640.3L1844.7 1645.2L1836.5 1650.1L1838.2 1656.7L1853 1663.3L1869.5 1671.6L1885.9 1679.8L1902.4 1686.4L1910.6 1693L1912.3 1701.2L1907.3 1711.1L1894.2 1716L1877.7 1722.6L1867.8 1729.2L1872.8 1734.2L1882.6 1737.5L1902.4 1744.1L1917.2 1745.4L1923 1747.3L1917.2 1749.3L1884.5 1758.5L1864.7 1762.4L1838.4 1767.7L1818.6 1771.6L1808.1 1774.3L1825.2 1778.2L1842.3 1783.5L1845 1792.7L1847.6 1801.9L1856.8 1809.9L1851.6 1817.8L1831.8 1823L1816 1827L1805.4 1832.3L1798.8 1842.8L1818.6 1848.1L1826.5 1853.3L1827.8 1861.3L1834.4 1869.2L1834.4 1878.4L1833.1 1885L1851.6 1888.9L1866.1 1892.9L1860.8 1898.2L1847.6 1902.1L1843.7 1912.7L1838.4 1917.9L1825.2 1923.2L1812 1928.5L1798.8 1933.7L1787 1940.3L1789.6 1946.6L1802.8 1957.1L1817.3 1963.7L1821.3 1970.3L1834.4 1978.2L1837.1 1984.8L1833.1 1991.4L1834.4 1996.7L1825.2 2001.9L1805.4 2004.6L1792.3 2007.2L1765.9 2009.9L1752.7 2025.7L1760.6 2030.9L1772.5 2040.2L1779.1 2052L1777.8 2058.6L1777.8 2065.2L1785.7 2071.8L1805.4 2074.4L1825.2 2077.1L1842.3 2082.3L1850.2 2092.9L1845 2104.7L1842.3 2114L1831.8 2119.2L1805.4 2121.9L1779.1 2124.5L1752.7 2128.5L1738.2 2133.7L1735.6 2141.6L1730.3 2148.2L1730.3 2147.9L1734.3 2154.5L1752.7 2159.8L1765.9 2163.7L1775.1 2169L1779.1 2175.6L1798.8 2179.5L1816 2183.5L1818.6 2186.1L1810.7 2191.4L1806.8 2199.3L1808.1 2207.2L1813.3 2216.4L1813.3 2224.3L1812 2232.3L1818.6 2237.5L1831.8 2244.1L1845 2252L1851.6 2257.3L1848.9 2259.9L1864.7 2265.2L1875.3 2269.8L1864.7 2274.4L1858.2 2279.7L1847.6 2286.3L1831.8 2290.2L1805.4 2294.2L1792.3 2298.2L1776.4 2306.1L1772.5 2315.3L1768.5 2324.5L1779.1 2328.5L1805.4 2333.7L1831.8 2336.4L1845 2340.3L1855.5 2345.6L1871.3 2350.9L1877.9 2356.1L1880.6 2360L1880.5 2363.8L1887.1 2373.7L1878.9 2380.3L1854.2 2385.2L1821.2 2390.1L1788.3 2396.7L1755.3 2401.7L1722.4 2405L1705.9 2407.4L1712.5 2413.2L1710.8 2423.1L1719.1 2431.3L1725.7 2439.6L1722.4 2449.5L1730.6 2461L1747.1 2469.2L1755.3 2475.8L1760.3 2483.2" stroke="#8e8f56" stroke-width="3.6"/>
<path d="M2202.1 1381.1L2197.3 1385.9L2203.7 1393.9L2194.1 1400.3L2198.9 1406.6L2195.7 1413L2203.7 1421" stroke="#5f5f5f" stroke-width="3.6"/>
<path d="M2222.8 1381.1L2221.2 1389.1L2226 1395.5L2221.9 1402.6L2218 1409.8L2224.4 1416.2L2229.2 1424.1L2224.4 1430.5L2230.7 1438.5L2229.2 1444.9L2233.9 1448L2230.7 1456" stroke="#c843c8" stroke-width="3.6"/>
<path d="M2147.9 1382.7L2148.7 1393.9L2143.2 1401.9L2140 1417.8L2137.1 1433.7L2136 1452.8L2139.2 1465.6L2141.6 1481.5L2143.2 1497.4L2139.2 1513.3L2138.4 1529.3L2127.2 1534L2103.3 1538.8L2104.9 1542.8L2087.4 1546.8L2071.5 1551.6L2039.6 1556.3L2007.8 1557.9L1979.1 1559.5L1980 1559.5L1927.1 1562L1877.7 1565.3L1844.7 1567.8L1818.4 1571.1L1828.3 1573.5L1853 1574.4L1849.7 1577.7L1854.6 1582.6L1853 1587.5L1861.2 1592.5L1869.5 1599.1L1874.4 1602.4L1889.2 1610.6L1877.7 1613.9L1869.5 1615.6L1872.8 1625.4L1871.1 1632L1874.4 1641.9L1867.8 1650.1L1867.8 1660L1871.1 1665L1867.8 1678.2L1866.2 1684.7L1857.9 1694.6L1857.9 1701.2L1861.2 1714.4L1862.9 1720.2" stroke="#8c8cff" stroke-width="3.6"/>
<path d="M2135.2 1382.7L2133.6 1460.8L2135.2 1481.5L2132 1516.5L2128.8 1527.7L2103.3 1530.9L2087.4 1534L2081 1538.8L2079.4 1543.6L2074.7 1548.4L2055.6 1553.2L2023.7 1559.5L1991.9 1564.3L1979.1 1566.2L1980 1563.7L1943.6 1567.8L1910.6 1571.1L1877.7 1573.5L1844.7 1575.2L1811.8 1577.7L1787.1 1580.1L1811.8 1581L1820 1582.6L1828.3 1587.5L1861.2 1590.8L1894.2 1595.8L1910.6 1599.1L1902.4 1609L1877.7 1615.6L1869.5 1620.5L1877.7 1628.7L1887.6 1633.7L1877.7 1641.9L1866.2 1651.8L1861.2 1656.7L1861.2 1665L1853 1671.6L1851.3 1678.2L1853 1681.4L1849.7 1688L1853 1693L1861.2 1701.2L1869.5 1709.5L1877.7 1717.7L1885.9 1722.6L1887.6 1732.5L1880.6 1759.8L1879.2 1772.9L1880.6 1786.1L1879.2 1799.3L1881.9 1812.5L1877.9 1821.7L1858.2 1828.3L1848.9 1834.9L1842.3 1842.8L1839.7 1852L1835.7 1861.3L1818.6 1865.2L1802.8 1867.8L1792.3 1873.1L1794.9 1882.3L1800.2 1891.6L1804.1 1904.7L1802.8 1919.2L1792.3 1923.2L1772.5 1931.1L1760.6 1936.4L1765.9 1943L1785.7 1947.9L1805.4 1955.8L1817.3 1962.4L1814.7 1972.9L1798.8 1980.9L1796.2 1992.7L1797.5 1999.3L1794.9 2008.5L1796.2 2019.1L1792.3 2032.3L1785.7 2045.4L1768.5 2058.6L1765.9 2066.5L1759.3 2077.1L1755.4 2085L1758 2095.5L1761.9 2104.7L1758 2115.3L1750.1 2124.5L1743.5 2135.1L1739.5 2143L1732.9 2150.9L1732.9 2157.1L1734.3 2179.5L1735.6 2198L1732.9 2205.9L1726.4 2213.8L1717.1 2221.7L1721.1 2229.6L1726.4 2237.5L1739.5 2241.5L1759.3 2246.8L1779.1 2252L1792.3 2258.6L1794.9 2266.5L1805.4 2271.8L1818.6 2279.7L1826.5 2287.6L1830.5 2298.2L1825.2 2308.7L1818.6 2315.3L1805.4 2321.9L1785.7 2327.1L1765.9 2332.4L1746.1 2340.3L1743.5 2346.9L1736.9 2353.5L1730.3 2360L1705.9 2363.8L1672.9 2372L1664.7 2381.9L1656.5 2400L1669.7 2413.2L1681.2 2426.4L1697.7 2439.6L1714.1 2451.1L1720.7 2464.3L1720.7 2475.8L1722.4 2482.4" stroke="#b89684" stroke-width="1.4"/>
<path d="M2137.6 1401.9L2138.4 1406.6L2132 1416.2L2132.1 1422L2134 1427.9L2135.2 1433.7L2134.9 1438.8L2134.4 1443.9L2135.9 1449L2135.5 1454.1L2135.2 1459.2L2134 1465.6L2133.6 1471.9L2130.4 1481.5L2128.9 1487.1L2127.2 1492.6L2120.9 1497.4L2128.8 1502.2L2126.6 1507.8L2125.6 1513.3L2128.8 1521.3L2119.3 1522.9L2087.4 1526.1L2055.6 1529.3L2042.8 1532.4L2046 1538.8L2044.4 1545.2L2036.4 1550L2007.8 1553.2L1979.1 1554.7L1980 1553.8L1943.6 1557.1L1894.2 1559.5L1853 1561.2L1828.3 1565.3L1811.8 1569.4L1778.8 1571.9L1771.4 1572.7L1778.8 1576.8L1811.8 1581L1844.7 1583.4L1877.7 1586.7L1902.4 1590L1917.2 1595L1902.4 1598.3L1885.9 1602.4L1874.4 1609L1866.2 1615.6L1877.7 1618.8L1889.2 1625.4L1892.5 1635.3L1895.8 1646.9L1899.1 1656.7L1894.2 1663.3L1895.8 1671.6L1892.5 1678.2L1897.5 1688L1894.2 1697.9L1895.8 1707.8L1892.5 1717.7L1895.8 1727.6L1895.8 1734.2L1899 1759.8L1896.4 1770.3L1897.7 1779.5L1899 1787.4L1895.1 1796.7L1896.4 1804.6L1889.8 1812.5L1893.7 1819.1L1884.5 1824.3L1858.2 1830.9L1831.8 1836.2L1805.4 1840.2L1785.7 1842.8L1775.1 1845.4L1781.7 1849.4L1798.8 1853.3L1812 1857.3L1804.1 1862.6L1818.6 1870.5L1829.2 1881L1818.6 1887.6L1805.4 1892.9L1789.6 1896.8L1781.7 1903.4L1765.9 1908.7L1758 1912.7L1763.3 1919.2L1779.1 1925.8L1798.8 1931.1L1816 1936.4L1816 1941.6L1808.1 1946.6L1805.4 1953.2L1808.1 1961.1L1802.8 1969L1792.3 1972.9L1789.6 1979.5L1783 1986.1L1785.7 1995.4L1789.6 2003.3L1785.7 2019.1L1781.7 2038.8L1792.3 2052L1790.9 2059.9L1802.8 2067.8L1808.1 2077.1L1806.8 2085L1809.4 2098.2L1818.6 2106.1L1825.2 2115.3L1826.5 2124.5L1823.9 2133.7L1818.6 2143L1805.4 2150.5L1785.7 2154.5L1752.7 2157.8L1726.4 2161.1L1717.1 2166.4L1714.5 2175.6L1717.1 2183.5L1726.4 2188.8L1739.5 2194L1759.3 2200.6L1772.5 2204.6L1777.8 2211.2L1776.4 2219.1L1779.1 2227L1773.8 2237.5L1772.5 2245.4L1779.1 2252L1792.3 2256L1812 2258.6L1821.3 2262.6L1812 2266.5L1792.3 2271.8L1772.5 2278.4L1752.7 2282.3L1736.9 2287.6L1735.6 2295.5L1726.4 2300.8L1718.5 2308.7L1721.1 2316.6L1726.4 2321.9L1746.1 2324.5L1765.9 2327.1L1785.7 2331.1L1805.4 2336.4L1818.6 2340.3L1829.2 2346.9L1834.4 2353.5L1834.4 2360L1845.9 2372L1862.4 2380.3L1869 2391.8L1862.4 2398.4L1837.7 2405L1804.7 2409.9L1771.8 2413.2L1738.8 2416.5L1720 2417.5L1705.4 2421.7L1687.3 2428.9L1669.1 2432.6L1651 2436.2L1638.9 2441L1637.7 2445.9L1651 2453.1L1669.1 2461.6L1687.3 2467.6L1699.3 2472.4L1709 2478.5L1710.2 2483.3" stroke="#00ffff" stroke-width="4.2"/>
<path d="M2136.8 1385.9L2135.8 1393.1L2136.8 1400.3L2141.6 1406.6L2140 1416.2L2140 1422L2137.5 1427.9L2136.8 1433.7L2137.1 1439.5L2135.8 1445.4L2135.2 1451.2L2140 1459.2L2136.8 1468.7L2143.2 1478.3L2140 1487.9L2133.6 1497.4L2136.8 1507L2140 1516.5L2133.6 1522.9L2138.4 1527.7L2152.7 1532.4L2149.5 1538.8L2135.2 1543.6L2103.3 1550L2071.5 1554.7L2042.8 1557.9L2036.4 1567.5L2020.5 1573.9L2023.7 1581.8L2007.8 1585L1983.9 1591.4L1980 1592.5L1943.6 1595.8L1910.6 1599.1L1885.9 1602.4L1869.5 1609L1861.2 1617.2L1844.7 1622.1L1811.8 1625.4L1778.8 1627.1L1745.9 1630.4L1737.7 1633.7L1754.1 1637L1778.8 1638.6L1795.3 1641.9L1803.6 1648.5L1820 1651.8L1826.6 1656.7L1825 1665L1811.8 1668.3L1795.3 1671.6L1782.1 1674.9L1795.3 1678.2L1820 1680.6L1844.7 1684.7L1836.5 1689.7L1844.7 1694.6L1854.6 1701.2L1857.9 1709.5L1849.7 1717.7L1844.7 1724.3L1849.7 1732.5L1841.4 1739.1L1826.5 1744L1831.8 1750.5L1833.1 1757.1L1818.6 1762.4L1792.3 1766.4L1779.1 1771.6L1780.4 1780.9L1777.8 1790.1L1771.2 1796.7L1779.1 1803.3L1798.8 1809.9L1812 1815.1L1816 1819.1L1812 1823L1814.7 1828.3L1805.4 1834.9L1785.7 1840.2L1759.3 1845.4L1743.5 1850L1759.3 1853.3L1779.1 1857.3L1798.8 1861.3L1798.8 1871.8L1797.5 1879.7L1801.5 1888.9L1804.1 1898.2L1805.4 1908.7L1808.1 1917.9L1805.4 1924.5L1785.7 1929.8L1772.5 1935.1L1763.3 1941.6L1759.3 1950.9L1752.7 1953.5L1739.5 1958.8L1744.8 1966.4L1740.9 1976.9L1746.1 1983.5L1759.3 1988.8L1767.2 1992.7L1755.4 1998L1763.3 2008.5L1773.1 2019.1L1777.8 2037.5L1781.7 2045.4L1792.3 2053.3L1804.1 2063.9L1792.3 2070.5L1787 2074.4L1798.8 2078.4L1812 2085L1821.3 2091.6L1812 2098.2L1810.7 2108.7L1808.1 2115.3L1809.4 2124.5L1805.4 2133.7L1809.4 2139.9L1816 2145.3L1818.6 2153.2L1821.3 2159.8L1805.4 2163.7L1781.7 2169L1775.1 2174.3L1769.9 2182.2L1775.1 2190.1L1772.5 2194L1752.7 2200.6L1752.7 2209.9L1754 2219.1L1759.3 2227L1760.6 2234.9L1752.7 2242.8L1739.5 2252L1732.9 2256L1713.2 2258.6L1700 2260.6L1693.3 2260.7L1669.1 2264.3L1659.5 2266.1L1669.1 2269.1L1687.3 2272.8L1698.1 2276.4L1700.6 2278.8L1693.3 2281.2L1669.1 2284.8L1645 2287.3L1620.8 2292.1L1611.2 2296.9L1608.7 2302.1L1596.7 2309.3L1582.2 2315.4L1574.9 2322.6L1578.5 2331.1L1587 2338.3L1602.7 2344.4L1620.8 2351.6L1632.9 2358.9L1640.1 2364.9L1651 2377L1661.9 2385.4L1664.3 2390.3L1657.1 2397.5L1638.9 2403.6L1620.8 2409.6L1617.2 2418.1L1618.4 2426.5L1614.8 2435L1617.2 2442.2L1626.9 2450.7L1638.9 2457.9L1651 2465.2L1660.7 2471.2L1664.3 2478.5L1666.7 2483.3" stroke="#c8c828" stroke-width="3.6"/>
</g>
<g id="bottles" stroke-width="1.1">
<circle cx="2136.5" cy="1385.1" r="13.7" fill="#003333" stroke="#001a1a"/>
<circle cx="1477.3" cy="1747.1" r="13.7" fill="#003333" stroke="#001a1a"/>
<circle cx="1780.4" cy="2021.1" r="13.7" fill="#9900cc" stroke="#3a0050"/>
<circle cx="2158.3" cy="1432.9" r="13.7" fill="#99cc66" stroke="#3f5a22"/>
<circle cx="1721" cy="2284.1" r="13.7" fill="#99cc66" stroke="#3f5a22"/>
<circle cx="1743.5" cy="2010.5" r="13.7" fill="#999966" stroke="#44442a"/>
<circle cx="1750.7" cy="2011.8" r="13.7" fill="#999966" stroke="#44442a"/>
<circle cx="2138.5" cy="1433.8" r="13.7" fill="#00ffff" stroke="#145050"/>
<circle cx="1892.5" cy="1745.7" r="13.7" fill="#00ffff" stroke="#145050"/>
<circle cx="1902.4" cy="1747.3" r="13.7" fill="#00ffff" stroke="#145050"/>
<circle cx="2136.5" cy="1432.1" r="13.7" fill="#cccc33" stroke="#55551a"/>
<circle cx="1773.1" cy="2019.1" r="13.7" fill="#cccc33" stroke="#55551a"/>
</g>
<g stroke="#000" stroke-width="0.45">
<rect x="666.5" y="444.2" width="318.3" height="629.1" fill="#fff" stroke="#9c9c9c" stroke-width="1.5"/>
<text x="684" y="496.2" font-size="36.6">Spring 2015 - RA</text>
<path d="M687.7 533.7H861.2" stroke="#05292b" stroke-width="5.8" stroke-linecap="round" fill="none"/>
<text x="882.6" y="546.1" font-size="36">11</text>
<path d="M687.7 583.8H861.2" stroke="#5b0f60" stroke-width="3.7" stroke-linecap="round" fill="none"/>
<text x="882.6" y="596.2" font-size="36">12</text>
<path d="M687.7 633.9H861.2" stroke="#ff8cc6" stroke-width="5.8" stroke-linecap="round" fill="none"/>
<text x="882.6" y="646.3" font-size="36">13</text>
<path d="M687.7 684H861.2" stroke="#86c440" stroke-width="3.7" stroke-linecap="round" fill="none"/>
<text x="882.6" y="696.4" font-size="36">14</text>
<path d="M687.7 734.1H861.2" stroke="#8e8f56" stroke-width="5.8" stroke-linecap="round" fill="none"/>
<text x="882.6" y="746.5" font-size="36">15</text>
<path d="M687.7 784.2H861.2" stroke="#5f5f5f" stroke-width="5.8" stroke-linecap="round" fill="none"/>
<text x="882.6" y="796.6" font-size="36">16</text>
<path d="M687.7 834.3H861.2" stroke="#c843c8" stroke-width="3.7" stroke-linecap="round" fill="none"/>
<text x="882.6" y="846.7" font-size="36">17</text>
<path d="M687.7 884.4H861.2" stroke="#8c8cff" stroke-width="5.8" stroke-linecap="round" fill="none"/>
<text x="882.6" y="896.8" font-size="36">18</text>
<path d="M687.7 934.5H861.2" stroke="#5e2a07" stroke-width="5.8" stroke-linecap="round" fill="none"/>
<text x="882.6" y="946.9" font-size="36">19</text>
<path d="M687.7 984.6H861.2" stroke="#00ffff" stroke-width="5.8" stroke-linecap="round" fill="none"/>
<text x="882.6" y="997" font-size="36">20</text>
<path d="M687.7 1034.7H861.2" stroke="#c8c828" stroke-width="5.8" stroke-linecap="round" fill="none"/>
<text x="882.6" y="1047.1" font-size="36">22</text>
</g>
<g stroke="#000" stroke-width="0.45">
<rect x="1856.8" y="436.8" width="318.4" height="629.1" fill="#fff" stroke="#9c9c9c" stroke-width="1.5"/>
<text x="1874.3" y="488.8" font-size="36.6">Spring 2015 - RA</text>
<path d="M1878 526.3H2051.5" stroke="#05292b" stroke-width="5.8" stroke-linecap="round" fill="none"/>
<text x="2072.9" y="538.7" font-size="36">11</text>
<path d="M1878 576.4H2051.5" stroke="#5b0f60" stroke-width="5.8" stroke-linecap="round" fill="none"/>
<text x="2072.9" y="588.8" font-size="36">12</text>
<path d="M1878 626.5H2051.5" stroke="#ff8cc6" stroke-width="5.8" stroke-linecap="round" fill="none"/>
<text x="2072.9" y="638.9" font-size="36">13</text>
<path d="M1878 676.6H2051.5" stroke="#86c440" stroke-width="5.8" stroke-linecap="round" fill="none"/>
<text x="2072.9" y="689" font-size="36">14</text>
<path d="M1878 726.7H2051.5" stroke="#8e8f56" stroke-width="5.8" stroke-linecap="round" fill="none"/>
<text x="2072.9" y="739.1" font-size="36">15</text>
<path d="M1878 776.8H2051.5" stroke="#5f5f5f" stroke-width="5.8" stroke-linecap="round" fill="none"/>
<text x="2072.9" y="789.2" font-size="36">16</text>
<path d="M1878 826.9H2051.5" stroke="#c843c8" stroke-width="5.8" stroke-linecap="round" fill="none"/>
<text x="2072.9" y="839.3" font-size="36">17</text>
<path d="M1878 877H2051.5" stroke="#8c8cff" stroke-width="5.8" stroke-linecap="round" fill="none"/>
<text x="2072.9" y="889.4" font-size="36">18</text>
<path d="M1878 927.1H2051.5" stroke="#5e2a07" stroke-width="5.8" stroke-linecap="round" fill="none"/>
<text x="2072.9" y="939.5" font-size="36">19</text>
<path d="M1878 977.2H2051.5" stroke="#00ffff" stroke-width="5.8" stroke-linecap="round" fill="none"/>
<text x="2072.9" y="989.6" font-size="36">20</text>
<path d="M1878 1027.3H2051.5" stroke="#c8c828" stroke-width="5.8" stroke-linecap="round" fill="none"/>
<text x="2072.9" y="1039.7" font-size="36">22</text>
</g>
<g stroke="#000" stroke-width="0.45">
<rect x="682.3" y="1651.3" width="299.1" height="609.7" fill="#fff" stroke="#9c9c9c" stroke-width="1.5"/>
<text x="690.3" y="1693.3" font-size="36.6">Spring 2015 - RA</text>
<path d="M694 1730.8H867.5" stroke="#05292b" stroke-width="5.8" stroke-linecap="round" fill="none"/>
<text x="888.9" y="1743.2" font-size="36">11</text>
<path d="M694 1780.9H867.5" stroke="#5b0f60" stroke-width="5.8" stroke-linecap="round" fill="none"/>
<text x="888.9" y="1793.3" font-size="36">12</text>
<path d="M694 1831H867.5" stroke="#ff8cc6" stroke-width="5.8" stroke-linecap="round" fill="none"/>
<text x="888.9" y="1843.4" font-size="36">13</text>
<path d="M694 1881.1H867.5" stroke="#86c440" stroke-width="5.8" stroke-linecap="round" fill="none"/>
<text x="888.9" y="1893.5" font-size="36">14</text>
<path d="M694 1931.2H867.5" stroke="#8e8f56" stroke-width="5.8" stroke-linecap="round" fill="none"/>
<text x="888.9" y="1943.6" font-size="36">15</text>
<path d="M694 1981.3H867.5" stroke="#5f5f5f" stroke-width="5.8" stroke-linecap="round" fill="none"/>
<text x="888.9" y="1993.7" font-size="36">16</text>
<path d="M694 2031.4H867.5" stroke="#c843c8" stroke-width="5.8" stroke-linecap="round" fill="none"/>
<text x="888.9" y="2043.8" font-size="36">17</text>
<path d="M694 2081.5H867.5" stroke="#8c8cff" stroke-width="5.8" stroke-linecap="round" fill="none"/>
<text x="888.9" y="2093.9" font-size="36">18</text>
<path d="M694 2131.6H867.5" stroke="#5e2a07" stroke-width="5.8" stroke-linecap="round" fill="none"/>
<text x="888.9" y="2144" font-size="36">19</text>
<path d="M694 2181.7H867.5" stroke="#00ffff" stroke-width="5.8" stroke-linecap="round" fill="none"/>
<text x="888.9" y="2194.1" font-size="36">20</text>
<path d="M694 2231.8H867.5" stroke="#c8c828" stroke-width="5.8" stroke-linecap="round" fill="none"/>
<text x="888.9" y="2244.2" font-size="36">22</text>
</g>
<g stroke="#000" stroke-width="0.4">
<rect x="1920.8" y="1753.8" width="307.5" height="726.2" fill="#fff" stroke="#9c9c9c" stroke-width="1.5"/>
<text x="1964" y="1800.4" font-size="29.2" textLength="219.6" lengthAdjust="spacingAndGlyphs">Spring 2015 - RA</text>
<path d="M1940 1831.5H2098.5" stroke="#05292b" stroke-width="3.6" stroke-linecap="round" fill="none"/>
<text x="2116" y="1840.6" font-size="25.4">11</text>
<path d="M1940 1870H2098.5" stroke="#5b0f60" stroke-width="3.6" stroke-linecap="round" fill="none"/>
<text x="2116" y="1879.1" font-size="25.4">12</text>
<path d="M1940 1908.4H2098.5" stroke="#ff8cc6" stroke-width="3.6" stroke-linecap="round" fill="none"/>
<text x="2116" y="1917.5" font-size="25.4">13</text>
<path d="M1940 1946.9H2098.5" stroke="#86c440" stroke-width="3.6" stroke-linecap="round" fill="none"/>
<text x="2116" y="1956" font-size="25.4">14</text>
<path d="M1940 1985.4H2098.5" stroke="#8e8f56" stroke-width="3.6" stroke-linecap="round" fill="none"/>
<text x="2116" y="1994.5" font-size="25.4">15</text>
<path d="M1940 2023.8H2098.5" stroke="#5f5f5f" stroke-width="3.6" stroke-linecap="round" fill="none"/>
<text x="2116" y="2032.9" font-size="25.4">16</text>
<path d="M1940 2062.3H2098.5" stroke="#c843c8" stroke-width="3.6" stroke-linecap="round" fill="none"/>
<text x="2116" y="2071.4" font-size="25.4">17</text>
<path d="M1940 2100.8H2098.5" stroke="#8c8cff" stroke-width="3.6" stroke-linecap="round" fill="none"/>
<text x="2116" y="2109.9" font-size="25.4">18</text>
<path d="M1940 2139.3H2098.5" stroke="#c9a596" stroke-width="1.4" stroke-linecap="round" fill="none"/>
<text x="2116" y="2148.4" font-size="25.4">19</text>
<path d="M1940 2177.7H2098.5" stroke="#00ffff" stroke-width="4.2" stroke-linecap="round" fill="none"/>
<text x="2116" y="2186.8" font-size="25.4">20</text>
<path d="M1940 2216.2H2098.5" stroke="#c8c828" stroke-width="3.6" stroke-linecap="round" fill="none"/>
<text x="2116" y="2225.3" font-size="25.4">22</text>
<ellipse cx="2019.1" cy="2254.8" rx="12.3" ry="13.4" fill="#003333" stroke="#111" stroke-width="1"/>
<text x="2116" y="2264.2" font-size="25.8" textLength="95.5" lengthAdjust="spacingAndGlyphs">11 Bottle</text>
<ellipse cx="2019.1" cy="2293.2" rx="12.3" ry="13.4" fill="#9900cc" stroke="#555" stroke-width="1"/>
<text x="2116" y="2302.6" font-size="25.8" textLength="95.5" lengthAdjust="spacingAndGlyphs">12 Bottle</text>
<ellipse cx="2019.1" cy="2331.6" rx="12.3" ry="13.4" fill="#99cc66" stroke="#667744" stroke-width="1"/>
<text x="2116" y="2341" font-size="25.8" textLength="95.5" lengthAdjust="spacingAndGlyphs">14 Bottle</text>
<ellipse cx="2019.1" cy="2370.1" rx="12.3" ry="13.4" fill="#999966" stroke="#666644" stroke-width="1"/>
<text x="2116" y="2379.5" font-size="25.8" textLength="95.5" lengthAdjust="spacingAndGlyphs">15 Bottle</text>
<ellipse cx="2019.1" cy="2408.5" rx="12.3" ry="13.4" fill="#00ffff" stroke="#998888" stroke-width="1"/>
<text x="2117" y="2417.9" font-size="25.8" textLength="94.5" lengthAdjust="spacingAndGlyphs">20 Bottle</text>
<ellipse cx="2019.1" cy="2446.9" rx="12.3" ry="13.4" fill="#cccc33" stroke="#888822" stroke-width="1"/>
<text x="2117" y="2456.3" font-size="25.8" textLength="94.5" lengthAdjust="spacingAndGlyphs">22 Bottle</text>
</g>
<g id="labelsA" font-size="36" fill="#000" stroke="#000" stroke-width="0.45">
<g text-anchor="middle">
<text x="181.6" y="84.2">2</text>
<text x="248.2" y="84.2">4</text>
<text x="314.8" y="84.2">6</text>
<text x="381.3" y="84.2">8</text>
<text x="447.9" y="84.2">10</text>
<text x="514.5" y="84.2">12</text>
<text x="581.1" y="84.2">14</text>
<text x="647.6" y="84.2">16</text>
<text x="714.2" y="84.2">18</text>
<text x="780.8" y="84.2">20</text>
<text x="847.4" y="84.2">22</text>
<text x="913.9" y="84.2">24</text>
<text x="980.5" y="84.2">26</text>
<text x="1047.1" y="84.2">28</text>
</g><g text-anchor="end">
<text x="125.2" y="134.2">0</text>
<text x="125.2" y="226.2">50</text>
<text x="125.2" y="318.1">100</text>
<text x="125.2" y="410.1">150</text>
<text x="125.2" y="502">200</text>
<text x="125.2" y="594">250</text>
<text x="125.2" y="686">300</text>
<text x="125.2" y="777.9">350</text>
<text x="125.2" y="869.9">400</text>
<text x="125.2" y="961.8">450</text>
<text x="125.2" y="1053.8">500</text>
<text x="125.2" y="1145.7">550</text>
<text x="125.2" y="1237.7">600</text>
</g>
<g fill="#9a9a9a" stroke="none"><circle cx="64" cy="308.5" r="1.1"/><circle cx="64" cy="400.5" r="1.1"/><circle cx="64" cy="492.4" r="1.1"/><circle cx="64" cy="584.4" r="1.1"/><circle cx="64" cy="676.4" r="1.1"/><circle cx="64" cy="768.3" r="1.1"/><circle cx="64" cy="860.3" r="1.1"/><circle cx="64" cy="952.2" r="1.1"/><circle cx="64" cy="1044.2" r="1.1"/><circle cx="64" cy="1136.1" r="1.1"/><circle cx="64" cy="1228.1" r="1.1"/></g>
</g>
<g id="labelsB" font-size="36" fill="#000" stroke="#000" stroke-width="0.45">
<g text-anchor="middle">
<text x="1369.5" y="77.2">34</text>
<text x="1513.8" y="77.2">34.5</text>
<text x="1658" y="77.2">35</text>
<text x="1802.2" y="77.2">35.5</text>
<text x="1946.5" y="77.2">36</text>
<text x="2090.8" y="77.2">36.5</text>
<text x="2235" y="77.2">37</text>
</g><g text-anchor="end">
<text x="1313.5" y="127.2">0</text>
<text x="1313.5" y="219.2">50</text>
<text x="1313.5" y="311.1">100</text>
<text x="1313.5" y="403.1">150</text>
<text x="1313.5" y="495">200</text>
<text x="1313.5" y="587">250</text>
<text x="1313.5" y="679">300</text>
<text x="1313.5" y="770.9">350</text>
<text x="1313.5" y="862.9">400</text>
<text x="1313.5" y="954.8">450</text>
<text x="1313.5" y="1046.8">500</text>
<text x="1313.5" y="1138.7">550</text>
<text x="1313.5" y="1230.7">600</text>
</g>
<g fill="#9a9a9a" stroke="none"><circle cx="1272.3" cy="209.6" r="1.1"/></g>
</g>
<g id="labelsC" font-size="36" fill="#000" stroke="#000" stroke-width="0.45">
<g text-anchor="middle">
<text x="198.8" y="1333.8">0</text>
<text x="412.3" y="1333.8">0.5</text>
<text x="625.9" y="1333.8">1</text>
<text x="839.4" y="1333.8">1.5</text>
<text x="1052.9" y="1333.8">2</text>
</g><g text-anchor="end">
<text x="169.4" y="1384.7">0</text>
<text x="169.4" y="1476.6">50</text>
<text x="169.4" y="1568.6">100</text>
<text x="169.4" y="1660.5">150</text>
<text x="169.4" y="1752.4">200</text>
<text x="169.4" y="1844.4">250</text>
<text x="169.4" y="1936.3">300</text>
<text x="169.4" y="2028.2">350</text>
<text x="169.4" y="2120.2">400</text>
<text x="169.4" y="2212.1">450</text>
<text x="169.4" y="2304">500</text>
<text x="169.4" y="2396">550</text>
<text x="169.4" y="2487.9">600</text>
</g>
<g fill="#9a9a9a" stroke="none"><circle cx="128.2" cy="1467" r="1.1"/></g>
</g>
<g id="labelsD" font-size="36" fill="#000" stroke="#000" stroke-width="0.45">
<g text-anchor="middle">
<text x="1376" y="1340.9">2</text>
<text x="1520.2" y="1340.9">2.5</text>
<text x="1664.4" y="1340.9">3</text>
<text x="1808.7" y="1340.9">3.5</text>
<text x="1952.9" y="1340.9">4</text>
<text x="2097.1" y="1340.9">4.5</text>
<text x="2241.3" y="1340.9">5</text>
</g><g text-anchor="end">
<text x="1318" y="1392">0</text>
<text x="1318" y="1484">50</text>
<text x="1318" y="1575.9">100</text>
<text x="1318" y="1667.8">150</text>
<text x="1318" y="1759.8">200</text>
<text x="1318" y="1851.8">250</text>
<text x="1318" y="1943.7">300</text>
<text x="1318" y="2035.6">350</text>
<text x="1318" y="2127.6">400</text>
<text x="1318" y="2219.5">450</text>
<text x="1318" y="2311.5">500</text>
<text x="1318" y="2403.4">550</text>
<text x="1318" y="2495.4">600</text>
</g>
<g fill="#9a9a9a" stroke="none"><circle cx="1276.8" cy="1474.3" r="1.1"/><circle cx="1256.8" cy="1566.3" r="1.1"/><circle cx="1256.8" cy="1658.2" r="1.1"/><circle cx="1256.8" cy="1750.2" r="1.1"/><circle cx="1256.8" cy="1842.1" r="1.1"/><circle cx="1256.8" cy="1934.1" r="1.1"/><circle cx="1256.8" cy="2026" r="1.1"/><circle cx="1256.8" cy="2118" r="1.1"/><circle cx="1256.8" cy="2209.9" r="1.1"/><circle cx="1256.8" cy="2301.9" r="1.1"/><circle cx="1256.8" cy="2393.8" r="1.1"/><circle cx="1256.8" cy="2485.8" r="1.1"/></g>
</g>
<g font-weight="bold" font-size="42" fill="#000" stroke="#000" stroke-width="0.4">
<text x="3.6" y="36">A</text>
<text x="1212" y="36">B</text>
<text x="5" y="1337">C</text>
<text x="1212" y="1336.6">D</text>
<text x="444.5" y="40.2">Temperature (</text>
<text x="722.4" y="32.6" font-weight="normal" font-size="31" fill="#6e6e6e" stroke="none">0</text>
<text x="740.2" y="40.2">C)</text>
<text x="1802" y="34.6" text-anchor="middle">Salinity</text>
<text x="396.8" y="1291.8">Fluorescence (mg m<tspan dy="-8.6">-3</tspan><tspan dy="8.6">)</tspan></text>
<text x="1657" y="1298">Oxygen (ml l<tspan dy="-8.6">-1</tspan><tspan dy="8.6">)</tspan></text>
<text transform="translate(34.7 673) rotate(-90)" x="-95.5" textLength="191" lengthAdjust="spacingAndGlyphs">Depth (m)</text>
<text transform="translate(1222 666.2) rotate(-90)" x="-95.5" textLength="191" lengthAdjust="spacingAndGlyphs">Depth (m)</text>
<text transform="translate(79.2 1923.7) rotate(-90)" x="-95.5" textLength="191" lengthAdjust="spacingAndGlyphs">Depth (m)</text>
<text transform="translate(1227.9 1930.3) rotate(-90)" x="-95.5" textLength="191" lengthAdjust="spacingAndGlyphs">Depth (m)</text>
</g>
</g>
</svg>
</body></html>
